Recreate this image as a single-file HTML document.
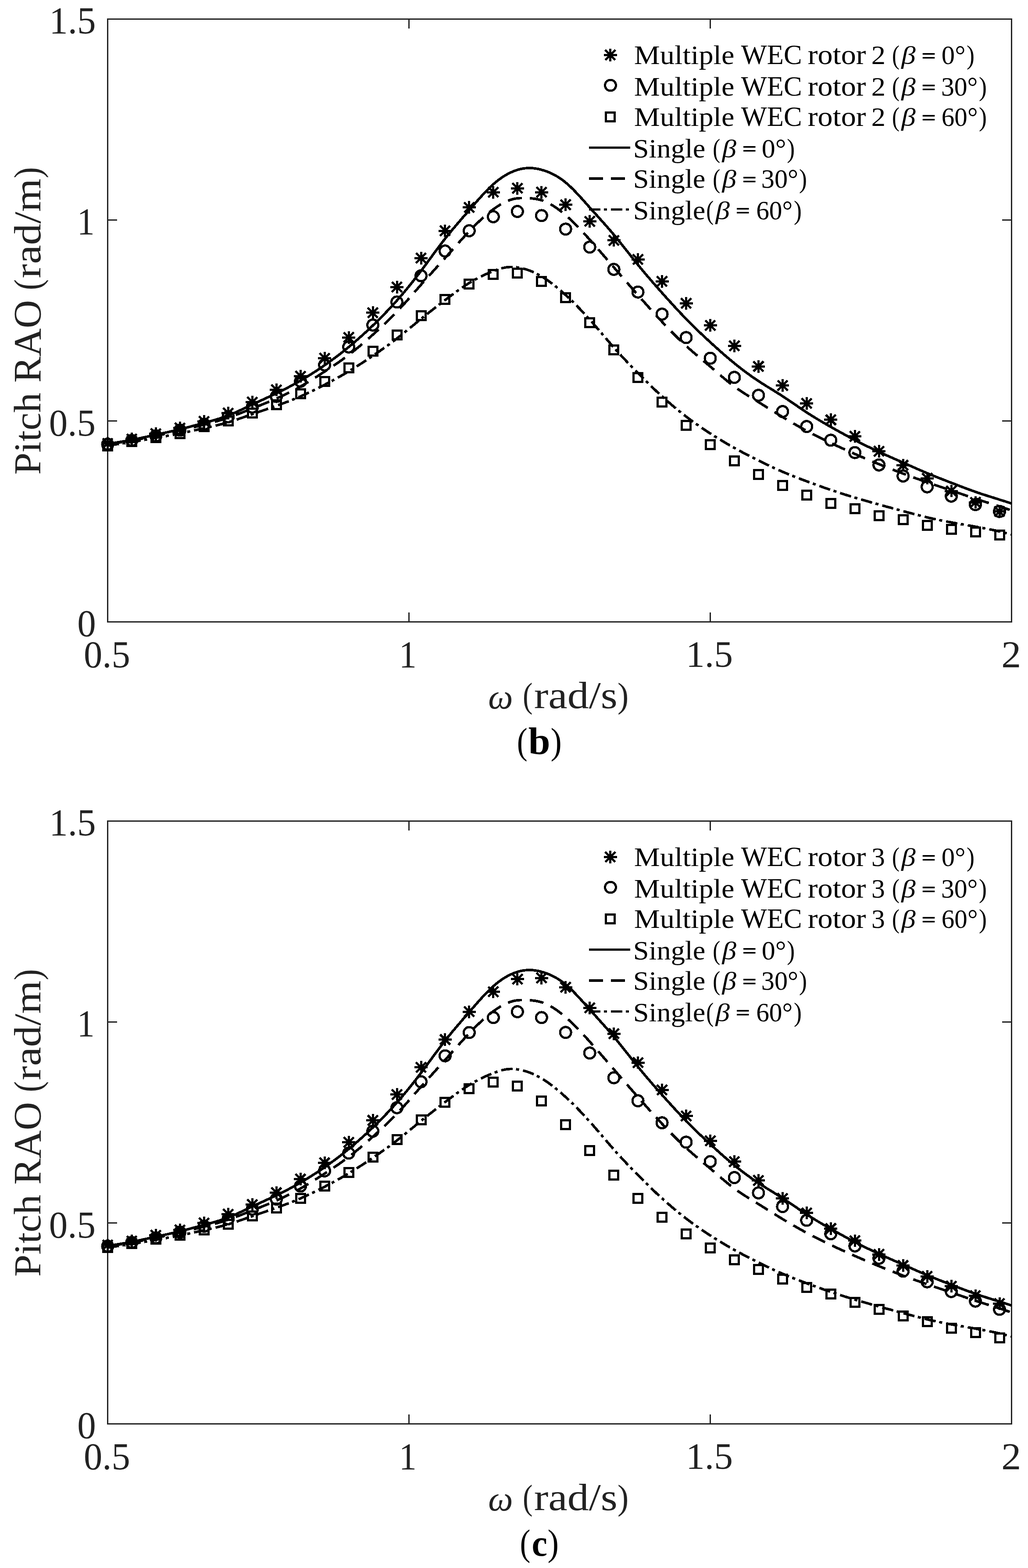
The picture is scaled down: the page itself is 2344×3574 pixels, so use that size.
<!DOCTYPE html>
<html lang="en"><head><meta charset="utf-8"><title>Pitch RAO</title>
<style>html,body{margin:0;padding:0;background:#fff}svg{display:block}text{white-space:pre}</style></head>
<body>
<svg xmlns="http://www.w3.org/2000/svg" width="2344" height="3574" viewBox="0 0 2344 3574">
<rect width="2344" height="3574" fill="#fff"/>
<g id="plot-b">
<rect x="245.5" y="43.5" width="2061.0" height="1374.0" fill="none" stroke="#222222" stroke-width="3"/>
<path d="M932.5,1417.5v-21.5M932.5,43.5v21.5M1619.5,1417.5v-21.5M1619.5,43.5v21.5M245.5,959.5h21.5M2306.5,959.5h-21.5M245.5,501.5h21.5M2306.5,501.5h-21.5" stroke="#222222" stroke-width="3" fill="none"/>
<g shape-rendering="crispEdges">
<path d="M245.5,1011.5 L249.5,1011.0 L253.5,1010.4 L257.5,1009.9 L261.5,1009.3 L265.5,1008.7 L269.5,1008.0 L273.5,1007.4 L277.5,1006.7 L281.5,1006.0 L285.5,1005.3 L289.5,1004.6 L293.5,1003.8 L297.5,1003.1 L301.5,1002.3 L305.5,1001.5 L309.5,1000.7 L313.5,999.9 L317.5,999.1 L321.5,998.3 L325.5,997.4 L329.5,996.6 L333.5,995.7 L337.5,994.9 L341.5,994.0 L345.5,993.2 L349.5,992.3 L353.5,991.4 L357.5,990.5 L361.5,989.7 L365.5,988.8 L369.5,987.9 L373.5,987.0 L377.5,986.2 L381.5,985.3 L385.5,984.4 L389.5,983.4 L393.5,982.5 L397.5,981.6 L401.5,980.6 L405.5,979.7 L409.5,978.7 L413.5,977.7 L417.5,976.7 L421.5,975.7 L425.5,974.7 L429.5,973.6 L433.5,972.6 L437.5,971.5 L441.5,970.5 L445.5,969.4 L449.5,968.3 L453.5,967.2 L457.5,966.1 L461.5,965.0 L465.5,964.0 L469.5,962.9 L473.5,961.8 L477.5,960.7 L481.5,959.6 L485.5,958.4 L489.5,957.3 L493.5,956.1 L497.5,954.9 L501.5,953.6 L505.5,952.3 L509.5,950.9 L513.5,949.5 L517.5,948.1 L521.5,946.5 L525.5,944.9 L529.5,943.3 L533.5,941.6 L537.5,939.8 L541.5,938.0 L545.5,936.1 L549.5,934.3 L553.5,932.4 L557.5,930.5 L561.5,928.6 L565.5,926.7 L569.5,924.7 L573.5,922.8 L577.5,920.9 L581.5,919.1 L585.5,917.2 L589.5,915.4 L593.5,913.5 L597.5,911.7 L601.5,909.9 L605.5,908.0 L609.5,906.2 L613.5,904.4 L617.5,902.5 L621.5,900.6 L625.5,898.8 L629.5,896.8 L633.5,894.9 L637.5,893.0 L641.5,891.0 L645.5,889.0 L649.5,886.9 L653.5,884.9 L657.5,882.8 L661.5,880.7 L665.5,878.5 L669.5,876.3 L673.5,874.1 L677.5,871.9 L681.5,869.6 L685.5,867.3 L689.5,865.0 L693.5,862.6 L697.5,860.2 L701.5,857.8 L705.5,855.3 L709.5,852.8 L713.5,850.2 L717.5,847.7 L721.5,845.1 L725.5,842.4 L729.5,839.8 L733.5,837.1 L737.5,834.3 L741.5,831.6 L745.5,828.8 L749.5,825.9 L753.5,823.0 L757.5,820.1 L761.5,817.2 L765.5,814.2 L769.5,811.2 L773.5,808.2 L777.5,805.1 L781.5,801.9 L785.5,798.8 L789.5,795.6 L793.5,792.3 L797.5,789.0 L801.5,785.7 L805.5,782.3 L809.5,778.9 L813.5,775.4 L817.5,771.9 L821.5,768.4 L825.5,764.8 L829.5,761.2 L833.5,757.6 L837.5,753.9 L841.5,750.1 L845.5,746.3 L849.5,742.5 L853.5,738.7 L857.5,734.8 L861.5,730.9 L865.5,726.9 L869.5,722.9 L873.5,718.8 L877.5,714.7 L881.5,710.5 L885.5,706.3 L889.5,702.1 L893.5,697.8 L897.5,693.4 L901.5,688.9 L905.5,684.5 L909.5,679.9 L913.5,675.3 L917.5,670.6 L921.5,665.9 L925.5,661.1 L929.5,656.3 L933.5,651.4 L937.5,646.4 L941.5,641.4 L945.5,636.3 L949.5,631.2 L953.5,626.0 L957.5,620.8 L961.5,615.5 L965.5,610.1 L969.5,604.8 L973.5,599.4 L977.5,593.9 L981.5,588.5 L985.5,583.0 L989.5,577.6 L993.5,572.2 L997.5,566.8 L1001.5,561.5 L1005.5,556.2 L1009.5,551.0 L1013.5,545.8 L1017.5,540.8 L1021.5,535.8 L1025.5,530.9 L1029.5,526.0 L1033.5,521.2 L1037.5,516.5 L1041.5,511.8 L1045.5,507.1 L1049.5,502.5 L1053.5,497.8 L1057.5,493.2 L1061.5,488.7 L1065.5,484.1 L1069.5,479.5 L1073.5,474.8 L1077.5,470.2 L1081.5,465.6 L1085.5,461.0 L1089.5,456.5 L1093.5,452.0 L1097.5,447.6 L1101.5,443.2 L1105.5,438.9 L1109.5,434.8 L1113.5,430.7 L1117.5,426.8 L1121.5,423.0 L1125.5,419.4 L1129.5,416.0 L1133.5,412.7 L1137.5,409.6 L1141.5,406.7 L1145.5,403.9 L1149.5,401.3 L1153.5,398.9 L1157.5,396.6 L1161.5,394.6 L1165.5,392.7 L1169.5,390.9 L1173.5,389.3 L1177.5,387.9 L1181.5,386.7 L1185.5,385.6 L1189.5,384.8 L1193.5,384.1 L1197.5,383.5 L1201.5,383.2 L1205.5,383.0 L1209.5,383.0 L1213.5,383.2 L1217.5,383.6 L1221.5,384.2 L1225.5,384.8 L1229.5,385.7 L1233.5,386.7 L1237.5,387.8 L1241.5,389.0 L1245.5,390.4 L1249.5,391.9 L1253.5,393.5 L1257.5,395.3 L1261.5,397.3 L1265.5,399.4 L1269.5,401.7 L1273.5,404.2 L1277.5,406.8 L1281.5,409.6 L1285.5,412.6 L1289.5,415.8 L1293.5,419.2 L1297.5,422.8 L1301.5,426.5 L1305.5,430.4 L1309.5,434.4 L1313.5,438.6 L1317.5,442.8 L1321.5,447.1 L1325.5,451.5 L1329.5,455.9 L1333.5,460.4 L1337.5,464.9 L1341.5,469.4 L1345.5,473.9 L1349.5,478.4 L1353.5,482.8 L1357.5,487.2 L1361.5,491.6 L1365.5,496.1 L1369.5,500.5 L1373.5,505.0 L1377.5,509.4 L1381.5,513.9 L1385.5,518.5 L1389.5,523.1 L1393.5,527.7 L1397.5,532.4 L1401.5,537.2 L1405.5,542.0 L1409.5,546.9 L1413.5,551.9 L1417.5,556.9 L1421.5,561.9 L1425.5,566.9 L1429.5,572.0 L1433.5,577.1 L1437.5,582.1 L1441.5,587.2 L1445.5,592.2 L1449.5,597.2 L1453.5,602.1 L1457.5,607.0 L1461.5,611.9 L1465.5,616.7 L1469.5,621.5 L1473.5,626.2 L1477.5,630.9 L1481.5,635.5 L1485.5,640.2 L1489.5,644.8 L1493.5,649.3 L1497.5,653.9 L1501.5,658.4 L1505.5,662.9 L1509.5,667.4 L1513.5,671.9 L1517.5,676.4 L1521.5,680.8 L1525.5,685.2 L1529.5,689.6 L1533.5,694.0 L1537.5,698.4 L1541.5,702.7 L1545.5,707.0 L1549.5,711.3 L1553.5,715.5 L1557.5,719.7 L1561.5,723.9 L1565.5,728.0 L1569.5,732.1 L1573.5,736.1 L1577.5,740.1 L1581.5,744.0 L1585.5,747.9 L1589.5,751.8 L1593.5,755.7 L1597.5,759.5 L1601.5,763.3 L1605.5,767.0 L1609.5,770.8 L1613.5,774.5 L1617.5,778.2 L1621.5,781.8 L1625.5,785.5 L1629.5,789.1 L1633.5,792.7 L1637.5,796.3 L1641.5,799.9 L1645.5,803.4 L1649.5,806.9 L1653.5,810.4 L1657.5,813.8 L1661.5,817.2 L1665.5,820.6 L1669.5,823.9 L1673.5,827.2 L1677.5,830.5 L1681.5,833.7 L1685.5,836.8 L1689.5,839.9 L1693.5,843.0 L1697.5,846.0 L1701.5,849.0 L1705.5,851.9 L1709.5,854.8 L1713.5,857.7 L1717.5,860.4 L1721.5,863.2 L1725.5,865.9 L1729.5,868.6 L1733.5,871.2 L1737.5,873.7 L1741.5,876.3 L1745.5,878.8 L1749.5,881.3 L1753.5,883.7 L1757.5,886.2 L1761.5,888.6 L1765.5,891.1 L1769.5,893.6 L1773.5,896.1 L1777.5,898.6 L1781.5,901.1 L1785.5,903.7 L1789.5,906.4 L1793.5,909.0 L1797.5,911.7 L1801.5,914.4 L1805.5,917.1 L1809.5,919.9 L1813.5,922.6 L1817.5,925.3 L1821.5,928.1 L1825.5,930.8 L1829.5,933.5 L1833.5,936.2 L1837.5,938.8 L1841.5,941.4 L1845.5,944.0 L1849.5,946.5 L1853.5,949.0 L1857.5,951.5 L1861.5,953.9 L1865.5,956.3 L1869.5,958.7 L1873.5,961.0 L1877.5,963.4 L1881.5,965.7 L1885.5,968.0 L1889.5,970.3 L1893.5,972.5 L1897.5,974.8 L1901.5,977.1 L1905.5,979.3 L1909.5,981.5 L1913.5,983.8 L1917.5,986.0 L1921.5,988.2 L1925.5,990.3 L1929.5,992.5 L1933.5,994.7 L1937.5,996.8 L1941.5,998.9 L1945.5,1001.0 L1949.5,1003.1 L1953.5,1005.2 L1957.5,1007.3 L1961.5,1009.3 L1965.5,1011.3 L1969.5,1013.3 L1973.5,1015.3 L1977.5,1017.3 L1981.5,1019.2 L1985.5,1021.2 L1989.5,1023.1 L1993.5,1025.0 L1997.5,1026.9 L2001.5,1028.7 L2005.5,1030.6 L2009.5,1032.4 L2013.5,1034.2 L2017.5,1036.0 L2021.5,1037.8 L2025.5,1039.6 L2029.5,1041.4 L2033.5,1043.2 L2037.5,1044.9 L2041.5,1046.7 L2045.5,1048.5 L2049.5,1050.2 L2053.5,1052.0 L2057.5,1053.8 L2061.5,1055.5 L2065.5,1057.3 L2069.5,1059.1 L2073.5,1060.9 L2077.5,1062.6 L2081.5,1064.4 L2085.5,1066.2 L2089.5,1068.0 L2093.5,1069.7 L2097.5,1071.5 L2101.5,1073.2 L2105.5,1074.9 L2109.5,1076.6 L2113.5,1078.3 L2117.5,1080.0 L2121.5,1081.7 L2125.5,1083.3 L2129.5,1084.9 L2133.5,1086.5 L2137.5,1088.1 L2141.5,1089.7 L2145.5,1091.2 L2149.5,1092.8 L2153.5,1094.4 L2157.5,1095.9 L2161.5,1097.5 L2165.5,1099.0 L2169.5,1100.6 L2173.5,1102.1 L2177.5,1103.6 L2181.5,1105.2 L2185.5,1106.7 L2189.5,1108.3 L2193.5,1109.8 L2197.5,1111.3 L2201.5,1112.8 L2205.5,1114.3 L2209.5,1115.8 L2213.5,1117.2 L2217.5,1118.7 L2221.5,1120.1 L2225.5,1121.5 L2229.5,1122.9 L2233.5,1124.2 L2237.5,1125.6 L2241.5,1126.9 L2245.5,1128.2 L2249.5,1129.5 L2253.5,1130.8 L2257.5,1132.0 L2261.5,1133.3 L2265.5,1134.5 L2269.5,1135.8 L2273.5,1137.1 L2277.5,1138.3 L2281.5,1139.6 L2285.5,1140.9 L2289.5,1142.1 L2293.5,1143.4 L2297.5,1144.7 L2301.5,1146.0 L2305.5,1147.4 L2306.5,1147.7" fill="none" stroke="#000" stroke-width="5.8" stroke-linejoin="round"/>
<path d="M245.5,1012.5 L249.5,1012.0 L253.5,1011.4 L257.5,1010.8 L261.5,1010.3 L265.5,1009.7 L269.5,1009.1 L273.5,1008.5 L277.5,1007.8 L281.5,1007.2 L285.5,1006.5 L289.5,1005.9 L293.5,1005.2 L297.5,1004.5 L301.5,1003.8 L305.5,1003.1 L309.5,1002.4 L313.5,1001.7 L317.5,1000.9 L321.5,1000.2 L325.5,999.4 L329.5,998.7 L333.5,997.9 L337.5,997.1 L341.5,996.3 L345.5,995.5 L349.5,994.7 L353.5,993.9 L357.5,993.1 L361.5,992.2 L365.5,991.4 L369.5,990.6 L373.5,989.7 L377.5,988.9 L381.5,988.0 L385.5,987.1 L389.5,986.2 L393.5,985.3 L397.5,984.4 L401.5,983.5 L405.5,982.6 L409.5,981.7 L413.5,980.8 L417.5,979.8 L421.5,978.9 L425.5,977.9 L429.5,977.0 L433.5,976.0 L437.5,975.0 L441.5,974.0 L445.5,973.0 L449.5,972.0 L453.5,971.0 L457.5,970.0 L461.5,969.0 L465.5,968.0 L469.5,966.9 L473.5,965.9 L477.5,964.8 L481.5,963.7 L485.5,962.6 L489.5,961.5 L493.5,960.4 L497.5,959.2 L501.5,958.0 L505.5,956.8 L509.5,955.5 L513.5,954.3 L517.5,952.9 L521.5,951.6 L525.5,950.2 L529.5,948.8 L533.5,947.3 L537.5,945.8 L541.5,944.3 L545.5,942.8 L549.5,941.2 L553.5,939.7 L557.5,938.1 L561.5,936.5 L565.5,934.9 L569.5,933.3 L573.5,931.7 L577.5,930.1 L581.5,928.5 L585.5,926.9 L589.5,925.3 L593.5,923.8 L597.5,922.2 L601.5,920.5 L605.5,918.9 L609.5,917.3 L613.5,915.6 L617.5,914.0 L621.5,912.3 L625.5,910.6 L629.5,908.8 L633.5,907.0 L637.5,905.2 L641.5,903.4 L645.5,901.5 L649.5,899.6 L653.5,897.7 L657.5,895.7 L661.5,893.7 L665.5,891.6 L669.5,889.6 L673.5,887.4 L677.5,885.3 L681.5,883.1 L685.5,880.8 L689.5,878.5 L693.5,876.2 L697.5,873.8 L701.5,871.4 L705.5,869.0 L709.5,866.5 L713.5,864.1 L717.5,861.5 L721.5,859.0 L725.5,856.5 L729.5,853.9 L733.5,851.3 L737.5,848.7 L741.5,846.1 L745.5,843.5 L749.5,840.9 L753.5,838.2 L757.5,835.6 L761.5,832.9 L765.5,830.2 L769.5,827.5 L773.5,824.7 L777.5,821.9 L781.5,819.0 L785.5,816.1 L789.5,813.2 L793.5,810.2 L797.5,807.2 L801.5,804.1 L805.5,800.9 L809.5,797.7 L813.5,794.4 L817.5,791.1 L821.5,787.8 L825.5,784.4 L829.5,781.0 L833.5,777.6 L837.5,774.1 L841.5,770.6 L845.5,767.1 L849.5,763.5 L853.5,759.9 L857.5,756.3 L861.5,752.7 L865.5,749.1 L869.5,745.4 L873.5,741.6 L877.5,737.9 L881.5,734.1 L885.5,730.2 L889.5,726.3 L893.5,722.3 L897.5,718.3 L901.5,714.2 L905.5,710.0 L909.5,705.8 L913.5,701.4 L917.5,697.1 L921.5,692.7 L925.5,688.2 L929.5,683.7 L933.5,679.2 L937.5,674.6 L941.5,670.1 L945.5,665.5 L949.5,660.9 L953.5,656.4 L957.5,651.8 L961.5,647.3 L965.5,642.8 L969.5,638.3 L973.5,633.9 L977.5,629.4 L981.5,625.0 L985.5,620.6 L989.5,616.1 L993.5,611.7 L997.5,607.3 L1001.5,602.9 L1005.5,598.5 L1009.5,594.1 L1013.5,589.6 L1017.5,585.1 L1021.5,580.7 L1025.5,576.2 L1029.5,571.7 L1033.5,567.2 L1037.5,562.7 L1041.5,558.2 L1045.5,553.8 L1049.5,549.4 L1053.5,545.0 L1057.5,540.6 L1061.5,536.2 L1065.5,532.0 L1069.5,527.7 L1073.5,523.5 L1077.5,519.4 L1081.5,515.3 L1085.5,511.4 L1089.5,507.4 L1093.5,503.6 L1097.5,499.9 L1101.5,496.2 L1105.5,492.7 L1109.5,489.2 L1113.5,485.9 L1117.5,482.6 L1121.5,479.5 L1125.5,476.5 L1129.5,473.7 L1133.5,471.0 L1137.5,468.4 L1141.5,466.0 L1145.5,463.7 L1149.5,461.6 L1153.5,459.7 L1157.5,458.0 L1161.5,456.4 L1165.5,455.1 L1169.5,453.9 L1173.5,453.0 L1177.5,452.3 L1181.5,451.8 L1185.5,451.6 L1189.5,451.5 L1193.5,451.5 L1197.5,451.5 L1201.5,451.6 L1205.5,451.8 L1209.5,452.0 L1213.5,452.4 L1217.5,452.8 L1221.5,453.4 L1225.5,454.1 L1229.5,455.0 L1233.5,456.1 L1237.5,457.4 L1241.5,458.9 L1245.5,460.6 L1249.5,462.5 L1253.5,464.5 L1257.5,466.8 L1261.5,469.2 L1265.5,471.8 L1269.5,474.5 L1273.5,477.4 L1277.5,480.4 L1281.5,483.6 L1285.5,486.9 L1289.5,490.3 L1293.5,493.8 L1297.5,497.4 L1301.5,501.2 L1305.5,505.0 L1309.5,508.9 L1313.5,512.9 L1317.5,517.0 L1321.5,521.1 L1325.5,525.4 L1329.5,529.6 L1333.5,533.9 L1337.5,538.3 L1341.5,542.7 L1345.5,547.2 L1349.5,551.7 L1353.5,556.2 L1357.5,560.7 L1361.5,565.3 L1365.5,569.9 L1369.5,574.5 L1373.5,579.1 L1377.5,583.7 L1381.5,588.3 L1385.5,593.0 L1389.5,597.6 L1393.5,602.3 L1397.5,606.9 L1401.5,611.5 L1405.5,616.2 L1409.5,620.8 L1413.5,625.4 L1417.5,630.0 L1421.5,634.6 L1425.5,639.2 L1429.5,643.8 L1433.5,648.4 L1437.5,653.0 L1441.5,657.6 L1445.5,662.1 L1449.5,666.7 L1453.5,671.2 L1457.5,675.8 L1461.5,680.3 L1465.5,684.8 L1469.5,689.3 L1473.5,693.8 L1477.5,698.3 L1481.5,702.8 L1485.5,707.2 L1489.5,711.6 L1493.5,716.1 L1497.5,720.4 L1501.5,724.8 L1505.5,729.1 L1509.5,733.4 L1513.5,737.7 L1517.5,741.9 L1521.5,746.1 L1525.5,750.3 L1529.5,754.4 L1533.5,758.5 L1537.5,762.5 L1541.5,766.5 L1545.5,770.5 L1549.5,774.4 L1553.5,778.2 L1557.5,782.0 L1561.5,785.7 L1565.5,789.4 L1569.5,793.0 L1573.5,796.5 L1577.5,800.0 L1581.5,803.5 L1585.5,806.9 L1589.5,810.3 L1593.5,813.7 L1597.5,817.0 L1601.5,820.4 L1605.5,823.7 L1609.5,827.1 L1613.5,830.4 L1617.5,833.8 L1621.5,837.2 L1625.5,840.6 L1629.5,844.1 L1633.5,847.5 L1637.5,850.9 L1641.5,854.3 L1645.5,857.8 L1649.5,861.1 L1653.5,864.5 L1657.5,867.8 L1661.5,871.0 L1665.5,874.2 L1669.5,877.3 L1673.5,880.3 L1677.5,883.2 L1681.5,886.1 L1685.5,888.9 L1689.5,891.6 L1693.5,894.2 L1697.5,896.8 L1701.5,899.3 L1705.5,901.9 L1709.5,904.3 L1713.5,906.8 L1717.5,909.2 L1721.5,911.7 L1725.5,914.1 L1729.5,916.5 L1733.5,919.0 L1737.5,921.5 L1741.5,924.0 L1745.5,926.5 L1749.5,929.0 L1753.5,931.5 L1757.5,934.0 L1761.5,936.5 L1765.5,939.0 L1769.5,941.5 L1773.5,943.9 L1777.5,946.4 L1781.5,948.8 L1785.5,951.3 L1789.5,953.7 L1793.5,956.1 L1797.5,958.4 L1801.5,960.8 L1805.5,963.1 L1809.5,965.4 L1813.5,967.7 L1817.5,970.0 L1821.5,972.2 L1825.5,974.5 L1829.5,976.7 L1833.5,978.8 L1837.5,981.0 L1841.5,983.2 L1845.5,985.3 L1849.5,987.4 L1853.5,989.5 L1857.5,991.5 L1861.5,993.6 L1865.5,995.6 L1869.5,997.6 L1873.5,999.6 L1877.5,1001.6 L1881.5,1003.5 L1885.5,1005.5 L1889.5,1007.4 L1893.5,1009.3 L1897.5,1011.2 L1901.5,1013.1 L1905.5,1015.0 L1909.5,1016.8 L1913.5,1018.7 L1917.5,1020.5 L1921.5,1022.3 L1925.5,1024.1 L1929.5,1025.9 L1933.5,1027.7 L1937.5,1029.5 L1941.5,1031.3 L1945.5,1033.0 L1949.5,1034.8 L1953.5,1036.6 L1957.5,1038.3 L1961.5,1040.0 L1965.5,1041.8 L1969.5,1043.5 L1973.5,1045.2 L1977.5,1046.9 L1981.5,1048.6 L1985.5,1050.3 L1989.5,1051.9 L1993.5,1053.6 L1997.5,1055.2 L2001.5,1056.9 L2005.5,1058.5 L2009.5,1060.1 L2013.5,1061.8 L2017.5,1063.4 L2021.5,1065.0 L2025.5,1066.5 L2029.5,1068.1 L2033.5,1069.7 L2037.5,1071.2 L2041.5,1072.8 L2045.5,1074.3 L2049.5,1075.8 L2053.5,1077.4 L2057.5,1078.9 L2061.5,1080.4 L2065.5,1081.9 L2069.5,1083.3 L2073.5,1084.8 L2077.5,1086.3 L2081.5,1087.7 L2085.5,1089.2 L2089.5,1090.6 L2093.5,1092.0 L2097.5,1093.5 L2101.5,1094.9 L2105.5,1096.3 L2109.5,1097.7 L2113.5,1099.1 L2117.5,1100.5 L2121.5,1101.8 L2125.5,1103.2 L2129.5,1104.6 L2133.5,1105.9 L2137.5,1107.3 L2141.5,1108.6 L2145.5,1110.0 L2149.5,1111.3 L2153.5,1112.7 L2157.5,1114.1 L2161.5,1115.4 L2165.5,1116.8 L2169.5,1118.1 L2173.5,1119.5 L2177.5,1120.9 L2181.5,1122.3 L2185.5,1123.6 L2189.5,1125.0 L2193.5,1126.4 L2197.5,1127.8 L2201.5,1129.1 L2205.5,1130.5 L2209.5,1131.8 L2213.5,1133.2 L2217.5,1134.5 L2221.5,1135.9 L2225.5,1137.2 L2229.5,1138.5 L2233.5,1139.8 L2237.5,1141.0 L2241.5,1142.3 L2245.5,1143.6 L2249.5,1144.9 L2253.5,1146.1 L2257.5,1147.4 L2261.5,1148.7 L2265.5,1149.9 L2269.5,1151.2 L2273.5,1152.5 L2277.5,1153.8 L2281.5,1155.1 L2285.5,1156.4 L2289.5,1157.8 L2293.5,1159.1 L2297.5,1160.5 L2301.5,1161.9 L2305.5,1163.3 L2306.5,1163.7" fill="none" stroke="#000" stroke-width="5.8" stroke-dasharray="32 18.03" stroke-linejoin="round"/>
<path d="M245.5,1015.0 L249.5,1014.6 L253.5,1014.1 L257.5,1013.7 L261.5,1013.2 L265.5,1012.7 L269.5,1012.1 L273.5,1011.6 L277.5,1011.0 L281.5,1010.4 L285.5,1009.8 L289.5,1009.2 L293.5,1008.6 L297.5,1008.0 L301.5,1007.3 L305.5,1006.7 L309.5,1006.0 L313.5,1005.3 L317.5,1004.6 L321.5,1004.0 L325.5,1003.3 L329.5,1002.6 L333.5,1001.9 L337.5,1001.2 L341.5,1000.5 L345.5,999.7 L349.5,999.0 L353.5,998.3 L357.5,997.6 L361.5,996.9 L365.5,996.2 L369.5,995.5 L373.5,994.8 L377.5,994.1 L381.5,993.4 L385.5,992.7 L389.5,992.0 L393.5,991.2 L397.5,990.5 L401.5,989.7 L405.5,989.0 L409.5,988.2 L413.5,987.4 L417.5,986.5 L421.5,985.7 L425.5,984.9 L429.5,984.0 L433.5,983.1 L437.5,982.2 L441.5,981.4 L445.5,980.5 L449.5,979.6 L453.5,978.7 L457.5,977.8 L461.5,976.9 L465.5,976.0 L469.5,975.1 L473.5,974.2 L477.5,973.3 L481.5,972.4 L485.5,971.4 L489.5,970.5 L493.5,969.6 L497.5,968.6 L501.5,967.6 L505.5,966.6 L509.5,965.5 L513.5,964.4 L517.5,963.3 L521.5,962.1 L525.5,960.9 L529.5,959.7 L533.5,958.4 L537.5,957.1 L541.5,955.8 L545.5,954.4 L549.5,953.0 L553.5,951.7 L557.5,950.3 L561.5,948.8 L565.5,947.4 L569.5,946.0 L573.5,944.6 L577.5,943.2 L581.5,941.8 L585.5,940.5 L589.5,939.1 L593.5,937.7 L597.5,936.3 L601.5,935.0 L605.5,933.6 L609.5,932.2 L613.5,930.9 L617.5,929.5 L621.5,928.1 L625.5,926.7 L629.5,925.3 L633.5,923.8 L637.5,922.4 L641.5,920.9 L645.5,919.4 L649.5,917.9 L653.5,916.4 L657.5,914.9 L661.5,913.3 L665.5,911.7 L669.5,910.1 L673.5,908.5 L677.5,906.8 L681.5,905.1 L685.5,903.4 L689.5,901.6 L693.5,899.8 L697.5,898.0 L701.5,896.1 L705.5,894.2 L709.5,892.3 L713.5,890.4 L717.5,888.5 L721.5,886.5 L725.5,884.5 L729.5,882.5 L733.5,880.4 L737.5,878.4 L741.5,876.3 L745.5,874.2 L749.5,872.1 L753.5,870.0 L757.5,867.8 L761.5,865.7 L765.5,863.5 L769.5,861.3 L773.5,859.0 L777.5,856.8 L781.5,854.5 L785.5,852.2 L789.5,849.8 L793.5,847.5 L797.5,845.1 L801.5,842.6 L805.5,840.1 L809.5,837.6 L813.5,835.1 L817.5,832.6 L821.5,830.0 L825.5,827.4 L829.5,824.8 L833.5,822.1 L837.5,819.5 L841.5,816.8 L845.5,814.1 L849.5,811.4 L853.5,808.7 L857.5,805.9 L861.5,803.2 L865.5,800.4 L869.5,797.6 L873.5,794.8 L877.5,791.9 L881.5,789.1 L885.5,786.2 L889.5,783.2 L893.5,780.3 L897.5,777.2 L901.5,774.2 L905.5,771.1 L909.5,768.0 L913.5,764.9 L917.5,761.7 L921.5,758.4 L925.5,755.2 L929.5,751.9 L933.5,748.7 L937.5,745.4 L941.5,742.1 L945.5,738.8 L949.5,735.5 L953.5,732.3 L957.5,729.0 L961.5,725.8 L965.5,722.5 L969.5,719.3 L973.5,716.2 L977.5,713.0 L981.5,709.8 L985.5,706.7 L989.5,703.6 L993.5,700.5 L997.5,697.4 L1001.5,694.3 L1005.5,691.2 L1009.5,688.2 L1013.5,685.1 L1017.5,682.0 L1021.5,679.0 L1025.5,676.0 L1029.5,673.0 L1033.5,670.0 L1037.5,667.1 L1041.5,664.1 L1045.5,661.3 L1049.5,658.5 L1053.5,655.7 L1057.5,653.0 L1061.5,650.3 L1065.5,647.7 L1069.5,645.2 L1073.5,642.8 L1077.5,640.5 L1081.5,638.2 L1085.5,636.0 L1089.5,633.9 L1093.5,631.8 L1097.5,629.9 L1101.5,627.9 L1105.5,626.1 L1109.5,624.3 L1113.5,622.6 L1117.5,620.9 L1121.5,619.3 L1125.5,617.8 L1129.5,616.3 L1133.5,614.8 L1137.5,613.5 L1141.5,612.3 L1145.5,611.2 L1149.5,610.3 L1153.5,609.5 L1157.5,609.0 L1161.5,608.6 L1165.5,608.4 L1169.5,608.5 L1173.5,608.8 L1177.5,609.2 L1181.5,609.8 L1185.5,610.5 L1189.5,611.3 L1193.5,612.3 L1197.5,613.4 L1201.5,614.6 L1205.5,616.0 L1209.5,617.5 L1213.5,619.2 L1217.5,620.9 L1221.5,622.8 L1225.5,624.8 L1229.5,627.0 L1233.5,629.2 L1237.5,631.6 L1241.5,634.2 L1245.5,636.8 L1249.5,639.6 L1253.5,642.4 L1257.5,645.4 L1261.5,648.4 L1265.5,651.6 L1269.5,654.9 L1273.5,658.2 L1277.5,661.6 L1281.5,665.1 L1285.5,668.7 L1289.5,672.3 L1293.5,676.0 L1297.5,679.7 L1301.5,683.5 L1305.5,687.4 L1309.5,691.3 L1313.5,695.3 L1317.5,699.4 L1321.5,703.5 L1325.5,707.7 L1329.5,711.9 L1333.5,716.2 L1337.5,720.5 L1341.5,724.9 L1345.5,729.4 L1349.5,733.9 L1353.5,738.5 L1357.5,743.1 L1361.5,747.7 L1365.5,752.4 L1369.5,757.0 L1373.5,761.7 L1377.5,766.4 L1381.5,771.1 L1385.5,775.7 L1389.5,780.4 L1393.5,785.0 L1397.5,789.5 L1401.5,794.1 L1405.5,798.6 L1409.5,803.0 L1413.5,807.4 L1417.5,811.7 L1421.5,816.1 L1425.5,820.3 L1429.5,824.6 L1433.5,828.8 L1437.5,833.0 L1441.5,837.1 L1445.5,841.2 L1449.5,845.3 L1453.5,849.4 L1457.5,853.4 L1461.5,857.4 L1465.5,861.4 L1469.5,865.4 L1473.5,869.3 L1477.5,873.3 L1481.5,877.1 L1485.5,881.0 L1489.5,884.8 L1493.5,888.6 L1497.5,892.4 L1501.5,896.1 L1505.5,899.8 L1509.5,903.4 L1513.5,907.0 L1517.5,910.6 L1521.5,914.1 L1525.5,917.6 L1529.5,921.1 L1533.5,924.5 L1537.5,927.8 L1541.5,931.2 L1545.5,934.5 L1549.5,937.7 L1553.5,940.9 L1557.5,944.0 L1561.5,947.2 L1565.5,950.2 L1569.5,953.3 L1573.5,956.2 L1577.5,959.2 L1581.5,962.1 L1585.5,965.0 L1589.5,967.8 L1593.5,970.6 L1597.5,973.4 L1601.5,976.1 L1605.5,978.8 L1609.5,981.5 L1613.5,984.1 L1617.5,986.7 L1621.5,989.3 L1625.5,991.8 L1629.5,994.4 L1633.5,996.9 L1637.5,999.4 L1641.5,1001.8 L1645.5,1004.2 L1649.5,1006.6 L1653.5,1009.0 L1657.5,1011.4 L1661.5,1013.7 L1665.5,1016.0 L1669.5,1018.2 L1673.5,1020.5 L1677.5,1022.7 L1681.5,1024.9 L1685.5,1027.0 L1689.5,1029.2 L1693.5,1031.3 L1697.5,1033.4 L1701.5,1035.4 L1705.5,1037.5 L1709.5,1039.5 L1713.5,1041.6 L1717.5,1043.6 L1721.5,1045.6 L1725.5,1047.6 L1729.5,1049.5 L1733.5,1051.5 L1737.5,1053.5 L1741.5,1055.4 L1745.5,1057.4 L1749.5,1059.3 L1753.5,1061.2 L1757.5,1063.1 L1761.5,1065.0 L1765.5,1066.9 L1769.5,1068.7 L1773.5,1070.5 L1777.5,1072.3 L1781.5,1074.0 L1785.5,1075.8 L1789.5,1077.5 L1793.5,1079.2 L1797.5,1080.8 L1801.5,1082.4 L1805.5,1084.0 L1809.5,1085.6 L1813.5,1087.2 L1817.5,1088.7 L1821.5,1090.3 L1825.5,1091.8 L1829.5,1093.3 L1833.5,1094.8 L1837.5,1096.3 L1841.5,1097.8 L1845.5,1099.3 L1849.5,1100.8 L1853.5,1102.2 L1857.5,1103.7 L1861.5,1105.2 L1865.5,1106.6 L1869.5,1108.0 L1873.5,1109.5 L1877.5,1110.9 L1881.5,1112.3 L1885.5,1113.7 L1889.5,1115.1 L1893.5,1116.4 L1897.5,1117.8 L1901.5,1119.1 L1905.5,1120.4 L1909.5,1121.8 L1913.5,1123.1 L1917.5,1124.4 L1921.5,1125.6 L1925.5,1126.9 L1929.5,1128.2 L1933.5,1129.4 L1937.5,1130.6 L1941.5,1131.9 L1945.5,1133.1 L1949.5,1134.3 L1953.5,1135.5 L1957.5,1136.7 L1961.5,1137.8 L1965.5,1139.0 L1969.5,1140.2 L1973.5,1141.3 L1977.5,1142.5 L1981.5,1143.6 L1985.5,1144.8 L1989.5,1145.9 L1993.5,1147.0 L1997.5,1148.1 L2001.5,1149.2 L2005.5,1150.4 L2009.5,1151.5 L2013.5,1152.6 L2017.5,1153.7 L2021.5,1154.8 L2025.5,1155.9 L2029.5,1156.9 L2033.5,1158.0 L2037.5,1159.1 L2041.5,1160.2 L2045.5,1161.3 L2049.5,1162.4 L2053.5,1163.5 L2057.5,1164.5 L2061.5,1165.6 L2065.5,1166.7 L2069.5,1167.8 L2073.5,1168.9 L2077.5,1170.0 L2081.5,1171.0 L2085.5,1172.1 L2089.5,1173.1 L2093.5,1174.2 L2097.5,1175.2 L2101.5,1176.2 L2105.5,1177.2 L2109.5,1178.2 L2113.5,1179.1 L2117.5,1180.1 L2121.5,1181.0 L2125.5,1181.9 L2129.5,1182.8 L2133.5,1183.7 L2137.5,1184.5 L2141.5,1185.3 L2145.5,1186.2 L2149.5,1187.0 L2153.5,1187.7 L2157.5,1188.5 L2161.5,1189.3 L2165.5,1190.0 L2169.5,1190.8 L2173.5,1191.5 L2177.5,1192.2 L2181.5,1192.9 L2185.5,1193.7 L2189.5,1194.4 L2193.5,1195.1 L2197.5,1195.8 L2201.5,1196.5 L2205.5,1197.2 L2209.5,1197.8 L2213.5,1198.5 L2217.5,1199.2 L2221.5,1199.9 L2225.5,1200.7 L2229.5,1201.4 L2233.5,1202.1 L2237.5,1202.8 L2241.5,1203.6 L2245.5,1204.3 L2249.5,1205.1 L2253.5,1205.9 L2257.5,1206.7 L2261.5,1207.5 L2265.5,1208.4 L2269.5,1209.2 L2273.5,1210.1 L2277.5,1211.0 L2281.5,1212.0 L2285.5,1213.0 L2289.5,1214.0 L2293.5,1215.0 L2297.5,1216.1 L2301.5,1217.2 L2305.5,1218.4 L2306.5,1218.7" fill="none" stroke="#000" stroke-width="5.8" stroke-dasharray="26 8 7 9.03" stroke-linejoin="round"/>
<path d="M230.5,1010.7H260.5M245.5,996.3V1025.1M234.0,999.2L257.0,1022.2M234.0,1022.2L257.0,999.2M285.5,1000.6H315.5M300.5,986.2V1015.0M289.0,989.1L312.0,1012.1M289.0,1012.1L312.0,989.1M340.4,988.6H370.4M355.4,974.2V1003.0M343.9,977.1L366.9,1000.1M343.9,1000.1L366.9,977.1M395.4,975.5H425.4M410.4,961.1V989.9M398.9,964.0L421.9,987.0M398.9,987.0L421.9,964.0M450.3,960.7H480.3M465.3,946.3V975.1M453.8,949.2L476.8,972.2M453.8,972.2L476.8,949.2M505.3,941.6H535.3M520.3,927.2V956.0M508.8,930.1L531.8,953.1M508.8,953.1L531.8,930.1M560.3,916.6H590.3M575.3,902.2V931.0M563.8,905.1L586.8,928.1M563.8,928.1L586.8,905.1M615.2,888.5H645.2M630.2,874.1V902.9M618.7,877.0L641.7,900.0M618.7,900.0L641.7,877.0M670.2,857.5H700.2M685.2,843.1V871.9M673.7,846.0L696.7,869.0M673.7,869.0L696.7,846.0M725.1,816.5H755.1M740.1,802.1V830.9M728.6,805.0L751.6,828.0M728.6,828.0L751.6,805.0M780.1,769.1H810.1M795.1,754.7V783.5M783.6,757.6L806.6,780.6M783.6,780.6L806.6,757.6M835.1,712.7H865.1M850.1,698.3V727.1M838.6,701.2L861.6,724.2M838.6,724.2L861.6,701.2M890.0,654.3H920.0M905.0,639.9V668.7M893.5,642.8L916.5,665.8M893.5,665.8L916.5,642.8M945.0,588.3H975.0M960.0,573.9V602.7M948.5,576.8L971.5,599.8M948.5,599.8L971.5,576.8M999.9,526.0H1029.9M1014.9,511.6V540.4M1003.4,514.5L1026.4,537.5M1003.4,537.5L1026.4,514.5M1054.9,472.7H1084.9M1069.9,458.3V487.1M1058.4,461.2L1081.4,484.2M1058.4,484.2L1081.4,461.2M1109.9,438.1H1139.9M1124.9,423.7V452.5M1113.4,426.6L1136.4,449.6M1113.4,449.6L1136.4,426.6M1164.8,429.2H1194.8M1179.8,414.8V443.6M1168.3,417.7L1191.3,440.7M1168.3,440.7L1191.3,417.7M1219.8,438.1H1249.8M1234.8,423.7V452.5M1223.3,426.6L1246.3,449.6M1223.3,449.6L1246.3,426.6M1274.7,466.6H1304.7M1289.7,452.2V481.0M1278.2,455.1L1301.2,478.1M1278.2,478.1L1301.2,455.1M1329.7,504.5H1359.7M1344.7,490.1V518.9M1333.2,493.0L1356.2,516.0M1333.2,516.0L1356.2,493.0M1384.7,547.9H1414.7M1399.7,533.5V562.3M1388.2,536.4L1411.2,559.4M1388.2,559.4L1411.2,536.4M1439.6,591.4H1469.6M1454.6,577.0V605.8M1443.1,579.9L1466.1,602.9M1443.1,602.9L1466.1,579.9M1494.6,641.4H1524.6M1509.6,627.0V655.8M1498.1,629.9L1521.1,652.9M1498.1,652.9L1521.1,629.9M1549.5,691.4H1579.5M1564.5,677.0V705.8M1553.0,679.9L1576.0,702.9M1553.0,702.9L1576.0,679.9M1604.5,741.7H1634.5M1619.5,727.3V756.1M1608.0,730.2L1631.0,753.2M1608.0,753.2L1631.0,730.2M1659.5,788.3H1689.5M1674.5,773.9V802.7M1663.0,776.8L1686.0,799.8M1663.0,799.8L1686.0,776.8M1714.4,835.1H1744.4M1729.4,820.7V849.5M1717.9,823.6L1740.9,846.6M1717.9,846.6L1740.9,823.6M1769.4,878.7H1799.4M1784.4,864.3V893.1M1772.9,867.2L1795.9,890.2M1772.9,890.2L1795.9,867.2M1824.3,919.7H1854.3M1839.3,905.3V934.1M1827.8,908.2L1850.8,931.2M1827.8,931.2L1850.8,908.2M1879.3,956.8H1909.3M1894.3,942.4V971.2M1882.8,945.3L1905.8,968.3M1882.8,968.3L1905.8,945.3M1934.3,994.7H1964.3M1949.3,980.3V1009.1M1937.8,983.2L1960.8,1006.2M1937.8,1006.2L1960.8,983.2M1989.2,1028.6H2019.2M2004.2,1014.2V1043.0M1992.7,1017.1L2015.7,1040.1M1992.7,1040.1L2015.7,1017.1M2044.2,1060.3H2074.2M2059.2,1045.9V1074.7M2047.7,1048.8L2070.7,1071.8M2047.7,1071.8L2070.7,1048.8M2099.1,1090.0H2129.1M2114.1,1075.6V1104.4M2102.6,1078.5L2125.6,1101.5M2102.6,1101.5L2125.6,1078.5M2154.1,1119.0H2184.1M2169.1,1104.6V1133.4M2157.6,1107.5L2180.6,1130.5M2157.6,1130.5L2180.6,1107.5M2209.1,1145.0H2239.1M2224.1,1130.6V1159.4M2212.6,1133.5L2235.6,1156.5M2212.6,1156.5L2235.6,1133.5M2264.0,1165.8H2294.0M2279.0,1151.4V1180.2M2267.5,1154.3L2290.5,1177.3M2267.5,1177.3L2290.5,1154.3" fill="none" stroke="#000" stroke-width="5"/>
<g fill="none" stroke="#000" stroke-width="5"><circle cx="245.5" cy="1012.5" r="12.5"/><circle cx="300.5" cy="1004.0" r="12.5"/><circle cx="355.4" cy="993.5" r="12.5"/><circle cx="410.4" cy="980.5" r="12.5"/><circle cx="465.3" cy="967.0" r="12.5"/><circle cx="520.3" cy="950.0" r="12.5"/><circle cx="575.3" cy="928.0" r="12.5"/><circle cx="630.2" cy="903.6" r="12.5"/><circle cx="685.2" cy="869.0" r="12.5"/><circle cx="740.1" cy="831.9" r="12.5"/><circle cx="795.1" cy="790.9" r="12.5"/><circle cx="850.1" cy="740.9" r="12.5"/><circle cx="905.0" cy="688.4" r="12.5"/><circle cx="960.0" cy="628.6" r="12.5"/><circle cx="1014.9" cy="572.2" r="12.5"/><circle cx="1069.9" cy="526.0" r="12.5"/><circle cx="1124.9" cy="494.0" r="12.5"/><circle cx="1179.8" cy="482.0" r="12.5"/><circle cx="1234.8" cy="491.4" r="12.5"/><circle cx="1289.7" cy="522.2" r="12.5"/><circle cx="1344.7" cy="563.2" r="12.5"/><circle cx="1399.7" cy="614.0" r="12.5"/><circle cx="1454.6" cy="665.7" r="12.5"/><circle cx="1509.6" cy="716.0" r="12.5"/><circle cx="1564.5" cy="769.4" r="12.5"/><circle cx="1619.5" cy="816.6" r="12.5"/><circle cx="1674.5" cy="860.2" r="12.5"/><circle cx="1729.4" cy="901.0" r="12.5"/><circle cx="1784.4" cy="938.1" r="12.5"/><circle cx="1839.3" cy="972.2" r="12.5"/><circle cx="1894.3" cy="1003.4" r="12.5"/><circle cx="1949.3" cy="1031.6" r="12.5"/><circle cx="2004.2" cy="1059.8" r="12.5"/><circle cx="2059.2" cy="1085.0" r="12.5"/><circle cx="2114.1" cy="1109.7" r="12.5"/><circle cx="2169.1" cy="1130.9" r="12.5"/><circle cx="2224.1" cy="1150.2" r="12.5"/><circle cx="2279.0" cy="1165.8" r="12.5"/></g>
<g fill="none" stroke="#000" stroke-width="5"><rect x="235.5" y="1006.4" width="20" height="20"/><rect x="290.5" y="996.3" width="20" height="20"/><rect x="345.4" y="987.4" width="20" height="20"/><rect x="400.4" y="978.4" width="20" height="20"/><rect x="455.3" y="962.5" width="20" height="20"/><rect x="510.3" y="949.2" width="20" height="20"/><rect x="565.3" y="931.0" width="20" height="20"/><rect x="620.2" y="912.2" width="20" height="20"/><rect x="675.2" y="887.2" width="20" height="20"/><rect x="730.1" y="859.6" width="20" height="20"/><rect x="785.1" y="828.3" width="20" height="20"/><rect x="840.1" y="790.4" width="20" height="20"/><rect x="895.0" y="753.2" width="20" height="20"/><rect x="950.0" y="709.3" width="20" height="20"/><rect x="1004.9" y="672.3" width="20" height="20"/><rect x="1059.9" y="637.2" width="20" height="20"/><rect x="1114.9" y="615.2" width="20" height="20"/><rect x="1169.8" y="612.1" width="20" height="20"/><rect x="1224.8" y="631.3" width="20" height="20"/><rect x="1279.7" y="668.5" width="20" height="20"/><rect x="1334.7" y="725.2" width="20" height="20"/><rect x="1389.7" y="787.3" width="20" height="20"/><rect x="1444.6" y="850.2" width="20" height="20"/><rect x="1499.6" y="906.5" width="20" height="20"/><rect x="1554.5" y="959.6" width="20" height="20"/><rect x="1609.5" y="1003.1" width="20" height="20"/><rect x="1664.5" y="1040.5" width="20" height="20"/><rect x="1719.4" y="1071.3" width="20" height="20"/><rect x="1774.4" y="1096.2" width="20" height="20"/><rect x="1829.3" y="1118.5" width="20" height="20"/><rect x="1884.3" y="1137.2" width="20" height="20"/><rect x="1939.3" y="1149.2" width="20" height="20"/><rect x="1994.2" y="1165.4" width="20" height="20"/><rect x="2049.2" y="1174.4" width="20" height="20"/><rect x="2104.1" y="1187.5" width="20" height="20"/><rect x="2159.1" y="1196.2" width="20" height="20"/><rect x="2214.1" y="1202.5" width="20" height="20"/><rect x="2269.0" y="1209.3" width="20" height="20"/></g>
<path d="M1376.5,125.5H1406.5M1391.5,111.1V139.9M1380.0,114.0L1403.0,137.0M1380.0,137.0L1403.0,114.0" fill="none" stroke="#000" stroke-width="5"/>
<circle cx="1392" cy="194.5" r="12.5" fill="none" stroke="#000" stroke-width="5"/>
<rect x="1381.5" y="256.5" width="20" height="20" fill="none" stroke="#000" stroke-width="5"/>
<path d="M1343,336.5H1437" stroke="#000" stroke-width="5" fill="none"/>
<path d="M1343,407H1437" stroke="#000" stroke-width="6" stroke-dasharray="32 18" fill="none"/>
<path d="M1343,477.5H1437" stroke="#000" stroke-width="5" stroke-dasharray="26 8 7 9" fill="none"/>
</g>
<text transform="translate(112.16,75.55) scale(0.9876,1)" font-family="'Liberation Serif', serif" font-size="86.11" fill="#222222">1.5</text>
<text transform="translate(175.75,534.00) scale(0.9267,1)" font-family="'Liberation Serif', serif" font-size="86.33" fill="#222222">1</text>
<text transform="translate(111.74,992.65) scale(0.9834,1)" font-family="'Liberation Serif', serif" font-size="86.40" fill="#222222">0.5</text>
<text transform="translate(176.14,1450.05) scale(0.9808,1)" font-family="'Liberation Serif', serif" font-size="86.69" fill="#222222">0</text>
<text transform="translate(190.96,1521.14) scale(0.9697,1)" font-family="'Liberation Serif', serif" font-size="87.27" fill="#222222">0.5</text>
<text transform="translate(909.63,1521.00) scale(0.9298,1)" font-family="'Liberation Serif', serif" font-size="86.33" fill="#222222">1</text>
<text transform="translate(1563.90,1520.46) scale(1.0025,1)" font-family="'Liberation Serif', serif" font-size="85.53" fill="#222222">1.5</text>
<text transform="translate(2283.19,1521.00) scale(1.0363,1)" font-family="'Liberation Serif', serif" font-size="86.92" fill="#222222">2</text>
<text transform="translate(91.90,1082.32) rotate(-90) scale(1.0504,1)" font-family="'Liberation Serif', serif" font-size="86.76" fill="#222222">Pitch</text>
<text transform="translate(91.52,872.29) rotate(-90) scale(1.0078,1)" font-family="'Liberation Serif', serif" font-size="88.58" fill="#222222">RAO</text>
<text transform="translate(92.44,661.22) rotate(-90) scale(0.8617,1)" font-family="'Liberation Serif', serif" font-size="86.24" fill="#222222">(</text>
<text transform="translate(91.90,634.22) rotate(-90) scale(1.1238,1)" font-family="'Liberation Serif', serif" font-size="86.76" fill="#222222">rad/m</text>
<text transform="translate(92.44,406.28) rotate(-90) scale(0.8818,1)" font-family="'Liberation Serif', serif" font-size="86.24" fill="#222222">)</text>
<text transform="translate(1113.21,1614.55) scale(0.9958,1)" font-family="'Liberation Serif', serif" font-size="80.10" fill="#222222" font-style="italic">ω</text>
<text transform="translate(1192.09,1612.02) scale(0.8359,1)" font-family="'Liberation Serif', serif" font-size="80.81" fill="#222222">(</text>
<text transform="translate(1217.77,1614.30) scale(1.1406,1)" font-family="'Liberation Serif', serif" font-size="85.76" fill="#222222">rad/s</text>
<text transform="translate(1408.12,1612.02) scale(0.9410,1)" font-family="'Liberation Serif', serif" font-size="80.81" fill="#222222">)</text>
<text transform="translate(1178.86,1718.39) scale(0.8489,1)" font-family="'Liberation Serif', serif" font-size="84.61" fill="#000">(</text>
<text transform="translate(1204.80,1718.43) scale(1.0255,1)" font-family="'Liberation Serif', serif" font-size="87.37" fill="#000" font-weight="bold">b</text>
<text transform="translate(1255.42,1718.39) scale(0.8988,1)" font-family="'Liberation Serif', serif" font-size="84.61" fill="#000">)</text>
<text transform="translate(1445.76,146.00) scale(1.0862,1)" font-family="'Liberation Serif', serif" font-size="61.16" fill="#000">Multiple</text>
<text transform="translate(1689.80,146.02) scale(0.9990,1)" font-family="'Liberation Serif', serif" font-size="62.55" fill="#000">WEC</text>
<text transform="translate(1841.83,146.00) scale(1.0923,1)" font-family="'Liberation Serif', serif" font-size="62.50" fill="#000">rotor</text>
<text transform="translate(1986.78,146.00) scale(1.0553,1)" font-family="'Liberation Serif', serif" font-size="61.32" fill="#000">2</text>
<text transform="translate(2034.10,146.41) scale(0.8489,1)" font-family="'Liberation Serif', serif" font-size="60.31" fill="#000">(</text>
<text transform="translate(2055.34,145.45) scale(1.1349,1)" font-family="'Liberation Serif', serif" font-size="57.39" fill="#000" font-style="italic">β</text>
<text transform="translate(2101.58,138.68) scale(1.6492,1)" font-family="'Liberation Sans', serif" font-size="33.28" fill="#000" font-weight="bold">=</text>
<text transform="translate(2146.80,146.14) scale(0.9895,1)" font-family="'Liberation Serif', serif" font-size="61.38" fill="#000">0°</text>
<text transform="translate(2204.11,146.41) scale(0.8989,1)" font-family="'Liberation Serif', serif" font-size="60.31" fill="#000">)</text>
<text transform="translate(1445.76,218.00) scale(1.0862,1)" font-family="'Liberation Serif', serif" font-size="61.16" fill="#000">Multiple</text>
<text transform="translate(1689.80,218.02) scale(0.9990,1)" font-family="'Liberation Serif', serif" font-size="62.55" fill="#000">WEC</text>
<text transform="translate(1841.83,218.00) scale(1.0923,1)" font-family="'Liberation Serif', serif" font-size="62.50" fill="#000">rotor</text>
<text transform="translate(1986.78,218.00) scale(1.0553,1)" font-family="'Liberation Serif', serif" font-size="61.32" fill="#000">2</text>
<text transform="translate(2034.10,218.41) scale(0.8489,1)" font-family="'Liberation Serif', serif" font-size="60.31" fill="#000">(</text>
<text transform="translate(2055.34,217.45) scale(1.1349,1)" font-family="'Liberation Serif', serif" font-size="57.39" fill="#000" font-style="italic">β</text>
<text transform="translate(2101.58,210.68) scale(1.6492,1)" font-family="'Liberation Sans', serif" font-size="33.28" fill="#000" font-weight="bold">=</text>
<text transform="translate(2145.90,218.14) scale(0.9731,1)" font-family="'Liberation Serif', serif" font-size="61.38" fill="#000">30°</text>
<text transform="translate(2232.01,218.41) scale(0.8989,1)" font-family="'Liberation Serif', serif" font-size="60.31" fill="#000">)</text>
<text transform="translate(1445.76,287.00) scale(1.0862,1)" font-family="'Liberation Serif', serif" font-size="61.16" fill="#000">Multiple</text>
<text transform="translate(1689.80,287.02) scale(0.9990,1)" font-family="'Liberation Serif', serif" font-size="62.55" fill="#000">WEC</text>
<text transform="translate(1841.83,287.00) scale(1.0923,1)" font-family="'Liberation Serif', serif" font-size="62.50" fill="#000">rotor</text>
<text transform="translate(1986.78,287.00) scale(1.0553,1)" font-family="'Liberation Serif', serif" font-size="61.32" fill="#000">2</text>
<text transform="translate(2034.10,287.41) scale(0.8489,1)" font-family="'Liberation Serif', serif" font-size="60.31" fill="#000">(</text>
<text transform="translate(2055.34,286.45) scale(1.1349,1)" font-family="'Liberation Serif', serif" font-size="57.39" fill="#000" font-style="italic">β</text>
<text transform="translate(2101.58,279.68) scale(1.6492,1)" font-family="'Liberation Sans', serif" font-size="33.28" fill="#000" font-weight="bold">=</text>
<text transform="translate(2146.86,287.14) scale(0.9617,1)" font-family="'Liberation Serif', serif" font-size="61.38" fill="#000">60°</text>
<text transform="translate(2232.01,287.41) scale(0.8989,1)" font-family="'Liberation Serif', serif" font-size="60.31" fill="#000">)</text>
<text transform="translate(1443.78,358.60) scale(1.0577,1)" font-family="'Liberation Serif', serif" font-size="60.87" fill="#000">Single</text>
<text transform="translate(1625.20,359.01) scale(0.8489,1)" font-family="'Liberation Serif', serif" font-size="60.31" fill="#000">(</text>
<text transform="translate(1646.44,358.05) scale(1.1349,1)" font-family="'Liberation Serif', serif" font-size="57.39" fill="#000" font-style="italic">β</text>
<text transform="translate(1692.68,351.28) scale(1.6492,1)" font-family="'Liberation Sans', serif" font-size="33.28" fill="#000" font-weight="bold">=</text>
<text transform="translate(1736.66,358.74) scale(1.0112,1)" font-family="'Liberation Serif', serif" font-size="61.38" fill="#000">0°</text>
<text transform="translate(1794.21,359.01) scale(0.8989,1)" font-family="'Liberation Serif', serif" font-size="60.31" fill="#000">)</text>
<text transform="translate(1443.78,428.00) scale(1.0577,1)" font-family="'Liberation Serif', serif" font-size="60.87" fill="#000">Single</text>
<text transform="translate(1625.20,428.41) scale(0.8489,1)" font-family="'Liberation Serif', serif" font-size="60.31" fill="#000">(</text>
<text transform="translate(1646.44,427.45) scale(1.1349,1)" font-family="'Liberation Serif', serif" font-size="57.39" fill="#000" font-style="italic">β</text>
<text transform="translate(1692.68,420.68) scale(1.6492,1)" font-family="'Liberation Sans', serif" font-size="33.28" fill="#000" font-weight="bold">=</text>
<text transform="translate(1735.77,428.14) scale(0.9831,1)" font-family="'Liberation Serif', serif" font-size="61.38" fill="#000">30°</text>
<text transform="translate(1822.01,428.41) scale(0.8989,1)" font-family="'Liberation Serif', serif" font-size="60.31" fill="#000">)</text>
<text transform="translate(1443.78,499.80) scale(1.0577,1)" font-family="'Liberation Serif', serif" font-size="60.87" fill="#000">Single</text>
<text transform="translate(1610.20,500.21) scale(0.8489,1)" font-family="'Liberation Serif', serif" font-size="60.31" fill="#000">(</text>
<text transform="translate(1631.44,499.25) scale(1.1349,1)" font-family="'Liberation Serif', serif" font-size="57.39" fill="#000" font-style="italic">β</text>
<text transform="translate(1677.68,492.48) scale(1.6492,1)" font-family="'Liberation Sans', serif" font-size="33.28" fill="#000" font-weight="bold">=</text>
<text transform="translate(1724.14,499.94) scale(0.9691,1)" font-family="'Liberation Serif', serif" font-size="61.38" fill="#000">60°</text>
<text transform="translate(1809.91,500.21) scale(0.8989,1)" font-family="'Liberation Serif', serif" font-size="60.31" fill="#000">)</text>
</g>
<g id="plot-c">
<rect x="245.5" y="1871.5" width="2061.0" height="1374.0" fill="none" stroke="#222222" stroke-width="3"/>
<path d="M932.5,3245.5v-21.5M932.5,1871.5v21.5M1619.5,3245.5v-21.5M1619.5,1871.5v21.5M245.5,2787.5h21.5M2306.5,2787.5h-21.5M245.5,2329.5h21.5M2306.5,2329.5h-21.5" stroke="#222222" stroke-width="3" fill="none"/>
<g shape-rendering="crispEdges">
<path d="M245.5,2839.5 L249.5,2839.0 L253.5,2838.4 L257.5,2837.9 L261.5,2837.3 L265.5,2836.7 L269.5,2836.0 L273.5,2835.4 L277.5,2834.7 L281.5,2834.0 L285.5,2833.3 L289.5,2832.6 L293.5,2831.8 L297.5,2831.1 L301.5,2830.3 L305.5,2829.5 L309.5,2828.7 L313.5,2827.9 L317.5,2827.1 L321.5,2826.3 L325.5,2825.4 L329.5,2824.6 L333.5,2823.7 L337.5,2822.9 L341.5,2822.0 L345.5,2821.2 L349.5,2820.3 L353.5,2819.4 L357.5,2818.5 L361.5,2817.7 L365.5,2816.8 L369.5,2815.9 L373.5,2815.0 L377.5,2814.2 L381.5,2813.3 L385.5,2812.4 L389.5,2811.4 L393.5,2810.5 L397.5,2809.6 L401.5,2808.6 L405.5,2807.7 L409.5,2806.7 L413.5,2805.7 L417.5,2804.7 L421.5,2803.7 L425.5,2802.7 L429.5,2801.6 L433.5,2800.6 L437.5,2799.5 L441.5,2798.5 L445.5,2797.4 L449.5,2796.3 L453.5,2795.2 L457.5,2794.1 L461.5,2793.0 L465.5,2792.0 L469.5,2790.9 L473.5,2789.8 L477.5,2788.7 L481.5,2787.6 L485.5,2786.4 L489.5,2785.3 L493.5,2784.1 L497.5,2782.9 L501.5,2781.6 L505.5,2780.3 L509.5,2778.9 L513.5,2777.5 L517.5,2776.1 L521.5,2774.5 L525.5,2772.9 L529.5,2771.3 L533.5,2769.6 L537.5,2767.8 L541.5,2766.0 L545.5,2764.1 L549.5,2762.3 L553.5,2760.4 L557.5,2758.5 L561.5,2756.6 L565.5,2754.7 L569.5,2752.7 L573.5,2750.8 L577.5,2748.9 L581.5,2747.1 L585.5,2745.2 L589.5,2743.4 L593.5,2741.5 L597.5,2739.7 L601.5,2737.9 L605.5,2736.0 L609.5,2734.2 L613.5,2732.4 L617.5,2730.5 L621.5,2728.6 L625.5,2726.8 L629.5,2724.8 L633.5,2722.9 L637.5,2721.0 L641.5,2719.0 L645.5,2717.0 L649.5,2714.9 L653.5,2712.9 L657.5,2710.8 L661.5,2708.7 L665.5,2706.5 L669.5,2704.3 L673.5,2702.1 L677.5,2699.9 L681.5,2697.6 L685.5,2695.3 L689.5,2693.0 L693.5,2690.6 L697.5,2688.2 L701.5,2685.8 L705.5,2683.3 L709.5,2680.8 L713.5,2678.2 L717.5,2675.7 L721.5,2673.1 L725.5,2670.4 L729.5,2667.8 L733.5,2665.1 L737.5,2662.3 L741.5,2659.6 L745.5,2656.8 L749.5,2653.9 L753.5,2651.0 L757.5,2648.1 L761.5,2645.2 L765.5,2642.2 L769.5,2639.2 L773.5,2636.2 L777.5,2633.1 L781.5,2629.9 L785.5,2626.8 L789.5,2623.6 L793.5,2620.3 L797.5,2617.0 L801.5,2613.7 L805.5,2610.3 L809.5,2606.9 L813.5,2603.4 L817.5,2599.9 L821.5,2596.4 L825.5,2592.8 L829.5,2589.2 L833.5,2585.6 L837.5,2581.9 L841.5,2578.1 L845.5,2574.3 L849.5,2570.5 L853.5,2566.7 L857.5,2562.8 L861.5,2558.9 L865.5,2554.9 L869.5,2550.9 L873.5,2546.8 L877.5,2542.7 L881.5,2538.5 L885.5,2534.3 L889.5,2530.1 L893.5,2525.8 L897.5,2521.4 L901.5,2516.9 L905.5,2512.5 L909.5,2507.9 L913.5,2503.3 L917.5,2498.6 L921.5,2493.9 L925.5,2489.1 L929.5,2484.3 L933.5,2479.4 L937.5,2474.4 L941.5,2469.4 L945.5,2464.3 L949.5,2459.2 L953.5,2454.0 L957.5,2448.8 L961.5,2443.5 L965.5,2438.1 L969.5,2432.8 L973.5,2427.4 L977.5,2421.9 L981.5,2416.5 L985.5,2411.0 L989.5,2405.6 L993.5,2400.2 L997.5,2394.8 L1001.5,2389.5 L1005.5,2384.2 L1009.5,2379.0 L1013.5,2373.8 L1017.5,2368.8 L1021.5,2363.8 L1025.5,2358.9 L1029.5,2354.0 L1033.5,2349.2 L1037.5,2344.5 L1041.5,2339.8 L1045.5,2335.1 L1049.5,2330.5 L1053.5,2325.8 L1057.5,2321.2 L1061.5,2316.7 L1065.5,2312.1 L1069.5,2307.5 L1073.5,2302.8 L1077.5,2298.2 L1081.5,2293.6 L1085.5,2289.0 L1089.5,2284.5 L1093.5,2280.0 L1097.5,2275.6 L1101.5,2271.2 L1105.5,2266.9 L1109.5,2262.8 L1113.5,2258.7 L1117.5,2254.8 L1121.5,2251.0 L1125.5,2247.4 L1129.5,2244.0 L1133.5,2240.7 L1137.5,2237.6 L1141.5,2234.7 L1145.5,2231.9 L1149.5,2229.3 L1153.5,2226.9 L1157.5,2224.6 L1161.5,2222.6 L1165.5,2220.7 L1169.5,2218.9 L1173.5,2217.3 L1177.5,2215.9 L1181.5,2214.7 L1185.5,2213.6 L1189.5,2212.8 L1193.5,2212.1 L1197.5,2211.5 L1201.5,2211.2 L1205.5,2211.0 L1209.5,2211.0 L1213.5,2211.2 L1217.5,2211.6 L1221.5,2212.2 L1225.5,2212.8 L1229.5,2213.7 L1233.5,2214.7 L1237.5,2215.8 L1241.5,2217.0 L1245.5,2218.4 L1249.5,2219.9 L1253.5,2221.5 L1257.5,2223.3 L1261.5,2225.3 L1265.5,2227.4 L1269.5,2229.7 L1273.5,2232.2 L1277.5,2234.8 L1281.5,2237.6 L1285.5,2240.6 L1289.5,2243.8 L1293.5,2247.2 L1297.5,2250.8 L1301.5,2254.5 L1305.5,2258.4 L1309.5,2262.4 L1313.5,2266.6 L1317.5,2270.8 L1321.5,2275.1 L1325.5,2279.5 L1329.5,2283.9 L1333.5,2288.4 L1337.5,2292.9 L1341.5,2297.4 L1345.5,2301.9 L1349.5,2306.4 L1353.5,2310.8 L1357.5,2315.2 L1361.5,2319.6 L1365.5,2324.1 L1369.5,2328.5 L1373.5,2333.0 L1377.5,2337.4 L1381.5,2341.9 L1385.5,2346.5 L1389.5,2351.1 L1393.5,2355.7 L1397.5,2360.4 L1401.5,2365.2 L1405.5,2370.0 L1409.5,2374.9 L1413.5,2379.9 L1417.5,2384.9 L1421.5,2389.9 L1425.5,2394.9 L1429.5,2400.0 L1433.5,2405.1 L1437.5,2410.1 L1441.5,2415.2 L1445.5,2420.2 L1449.5,2425.2 L1453.5,2430.1 L1457.5,2435.0 L1461.5,2439.9 L1465.5,2444.7 L1469.5,2449.5 L1473.5,2454.2 L1477.5,2458.9 L1481.5,2463.5 L1485.5,2468.2 L1489.5,2472.8 L1493.5,2477.3 L1497.5,2481.9 L1501.5,2486.4 L1505.5,2490.9 L1509.5,2495.4 L1513.5,2499.9 L1517.5,2504.4 L1521.5,2508.8 L1525.5,2513.2 L1529.5,2517.6 L1533.5,2522.0 L1537.5,2526.4 L1541.5,2530.7 L1545.5,2535.0 L1549.5,2539.3 L1553.5,2543.5 L1557.5,2547.7 L1561.5,2551.9 L1565.5,2556.0 L1569.5,2560.1 L1573.5,2564.1 L1577.5,2568.1 L1581.5,2572.0 L1585.5,2575.9 L1589.5,2579.8 L1593.5,2583.7 L1597.5,2587.5 L1601.5,2591.3 L1605.5,2595.0 L1609.5,2598.8 L1613.5,2602.5 L1617.5,2606.2 L1621.5,2609.8 L1625.5,2613.5 L1629.5,2617.1 L1633.5,2620.7 L1637.5,2624.3 L1641.5,2627.9 L1645.5,2631.4 L1649.5,2634.9 L1653.5,2638.4 L1657.5,2641.8 L1661.5,2645.2 L1665.5,2648.6 L1669.5,2651.9 L1673.5,2655.2 L1677.5,2658.5 L1681.5,2661.7 L1685.5,2664.8 L1689.5,2667.9 L1693.5,2671.0 L1697.5,2674.0 L1701.5,2677.0 L1705.5,2679.9 L1709.5,2682.8 L1713.5,2685.7 L1717.5,2688.4 L1721.5,2691.2 L1725.5,2693.9 L1729.5,2696.6 L1733.5,2699.2 L1737.5,2701.7 L1741.5,2704.3 L1745.5,2706.8 L1749.5,2709.3 L1753.5,2711.7 L1757.5,2714.2 L1761.5,2716.6 L1765.5,2719.1 L1769.5,2721.6 L1773.5,2724.1 L1777.5,2726.6 L1781.5,2729.1 L1785.5,2731.7 L1789.5,2734.4 L1793.5,2737.0 L1797.5,2739.7 L1801.5,2742.4 L1805.5,2745.1 L1809.5,2747.9 L1813.5,2750.6 L1817.5,2753.3 L1821.5,2756.1 L1825.5,2758.8 L1829.5,2761.5 L1833.5,2764.2 L1837.5,2766.8 L1841.5,2769.4 L1845.5,2772.0 L1849.5,2774.5 L1853.5,2777.0 L1857.5,2779.5 L1861.5,2781.9 L1865.5,2784.3 L1869.5,2786.7 L1873.5,2789.0 L1877.5,2791.4 L1881.5,2793.7 L1885.5,2796.0 L1889.5,2798.3 L1893.5,2800.5 L1897.5,2802.8 L1901.5,2805.1 L1905.5,2807.3 L1909.5,2809.5 L1913.5,2811.8 L1917.5,2814.0 L1921.5,2816.2 L1925.5,2818.3 L1929.5,2820.5 L1933.5,2822.7 L1937.5,2824.8 L1941.5,2826.9 L1945.5,2829.0 L1949.5,2831.1 L1953.5,2833.2 L1957.5,2835.3 L1961.5,2837.3 L1965.5,2839.3 L1969.5,2841.3 L1973.5,2843.3 L1977.5,2845.3 L1981.5,2847.2 L1985.5,2849.2 L1989.5,2851.1 L1993.5,2853.0 L1997.5,2854.9 L2001.5,2856.7 L2005.5,2858.6 L2009.5,2860.4 L2013.5,2862.2 L2017.5,2864.0 L2021.5,2865.8 L2025.5,2867.6 L2029.5,2869.4 L2033.5,2871.2 L2037.5,2872.9 L2041.5,2874.7 L2045.5,2876.5 L2049.5,2878.2 L2053.5,2880.0 L2057.5,2881.8 L2061.5,2883.5 L2065.5,2885.3 L2069.5,2887.1 L2073.5,2888.9 L2077.5,2890.6 L2081.5,2892.4 L2085.5,2894.2 L2089.5,2896.0 L2093.5,2897.7 L2097.5,2899.5 L2101.5,2901.2 L2105.5,2902.9 L2109.5,2904.6 L2113.5,2906.3 L2117.5,2908.0 L2121.5,2909.7 L2125.5,2911.3 L2129.5,2912.9 L2133.5,2914.5 L2137.5,2916.1 L2141.5,2917.7 L2145.5,2919.2 L2149.5,2920.8 L2153.5,2922.4 L2157.5,2923.9 L2161.5,2925.5 L2165.5,2927.0 L2169.5,2928.6 L2173.5,2930.1 L2177.5,2931.6 L2181.5,2933.2 L2185.5,2934.7 L2189.5,2936.3 L2193.5,2937.8 L2197.5,2939.3 L2201.5,2940.8 L2205.5,2942.3 L2209.5,2943.8 L2213.5,2945.2 L2217.5,2946.7 L2221.5,2948.1 L2225.5,2949.5 L2229.5,2950.9 L2233.5,2952.2 L2237.5,2953.6 L2241.5,2954.9 L2245.5,2956.2 L2249.5,2957.5 L2253.5,2958.8 L2257.5,2960.0 L2261.5,2961.3 L2265.5,2962.5 L2269.5,2963.8 L2273.5,2965.1 L2277.5,2966.3 L2281.5,2967.6 L2285.5,2968.9 L2289.5,2970.1 L2293.5,2971.4 L2297.5,2972.7 L2301.5,2974.0 L2305.5,2975.4 L2306.5,2975.7" fill="none" stroke="#000" stroke-width="5.8" stroke-linejoin="round"/>
<path d="M245.5,2840.5 L249.5,2840.0 L253.5,2839.4 L257.5,2838.8 L261.5,2838.3 L265.5,2837.7 L269.5,2837.1 L273.5,2836.5 L277.5,2835.8 L281.5,2835.2 L285.5,2834.5 L289.5,2833.9 L293.5,2833.2 L297.5,2832.5 L301.5,2831.8 L305.5,2831.1 L309.5,2830.4 L313.5,2829.7 L317.5,2828.9 L321.5,2828.2 L325.5,2827.4 L329.5,2826.7 L333.5,2825.9 L337.5,2825.1 L341.5,2824.3 L345.5,2823.5 L349.5,2822.7 L353.5,2821.9 L357.5,2821.1 L361.5,2820.2 L365.5,2819.4 L369.5,2818.6 L373.5,2817.7 L377.5,2816.9 L381.5,2816.0 L385.5,2815.1 L389.5,2814.2 L393.5,2813.3 L397.5,2812.4 L401.5,2811.5 L405.5,2810.6 L409.5,2809.7 L413.5,2808.8 L417.5,2807.8 L421.5,2806.9 L425.5,2805.9 L429.5,2805.0 L433.5,2804.0 L437.5,2803.0 L441.5,2802.0 L445.5,2801.0 L449.5,2800.0 L453.5,2799.0 L457.5,2798.0 L461.5,2797.0 L465.5,2796.0 L469.5,2794.9 L473.5,2793.9 L477.5,2792.8 L481.5,2791.7 L485.5,2790.6 L489.5,2789.5 L493.5,2788.4 L497.5,2787.2 L501.5,2786.0 L505.5,2784.8 L509.5,2783.5 L513.5,2782.3 L517.5,2780.9 L521.5,2779.6 L525.5,2778.2 L529.5,2776.8 L533.5,2775.3 L537.5,2773.8 L541.5,2772.3 L545.5,2770.8 L549.5,2769.2 L553.5,2767.7 L557.5,2766.1 L561.5,2764.5 L565.5,2762.9 L569.5,2761.3 L573.5,2759.7 L577.5,2758.1 L581.5,2756.5 L585.5,2754.9 L589.5,2753.3 L593.5,2751.8 L597.5,2750.2 L601.5,2748.5 L605.5,2746.9 L609.5,2745.3 L613.5,2743.6 L617.5,2742.0 L621.5,2740.3 L625.5,2738.6 L629.5,2736.8 L633.5,2735.0 L637.5,2733.2 L641.5,2731.4 L645.5,2729.5 L649.5,2727.6 L653.5,2725.7 L657.5,2723.7 L661.5,2721.7 L665.5,2719.6 L669.5,2717.6 L673.5,2715.4 L677.5,2713.3 L681.5,2711.1 L685.5,2708.8 L689.5,2706.5 L693.5,2704.2 L697.5,2701.8 L701.5,2699.4 L705.5,2697.0 L709.5,2694.5 L713.5,2692.1 L717.5,2689.5 L721.5,2687.0 L725.5,2684.5 L729.5,2681.9 L733.5,2679.3 L737.5,2676.7 L741.5,2674.1 L745.5,2671.5 L749.5,2668.9 L753.5,2666.2 L757.5,2663.6 L761.5,2660.9 L765.5,2658.2 L769.5,2655.5 L773.5,2652.7 L777.5,2649.9 L781.5,2647.0 L785.5,2644.1 L789.5,2641.2 L793.5,2638.2 L797.5,2635.2 L801.5,2632.1 L805.5,2628.9 L809.5,2625.7 L813.5,2622.4 L817.5,2619.1 L821.5,2615.8 L825.5,2612.4 L829.5,2609.0 L833.5,2605.6 L837.5,2602.1 L841.5,2598.6 L845.5,2595.1 L849.5,2591.5 L853.5,2587.9 L857.5,2584.3 L861.5,2580.7 L865.5,2577.1 L869.5,2573.4 L873.5,2569.6 L877.5,2565.9 L881.5,2562.1 L885.5,2558.2 L889.5,2554.3 L893.5,2550.3 L897.5,2546.3 L901.5,2542.2 L905.5,2538.0 L909.5,2533.8 L913.5,2529.4 L917.5,2525.1 L921.5,2520.7 L925.5,2516.2 L929.5,2511.7 L933.5,2507.2 L937.5,2502.6 L941.5,2498.1 L945.5,2493.5 L949.5,2488.9 L953.5,2484.4 L957.5,2479.8 L961.5,2475.3 L965.5,2470.8 L969.5,2466.3 L973.5,2461.9 L977.5,2457.4 L981.5,2453.0 L985.5,2448.6 L989.5,2444.1 L993.5,2439.7 L997.5,2435.3 L1001.5,2430.9 L1005.5,2426.5 L1009.5,2422.1 L1013.5,2417.6 L1017.5,2413.1 L1021.5,2408.7 L1025.5,2404.2 L1029.5,2399.7 L1033.5,2395.2 L1037.5,2390.7 L1041.5,2386.2 L1045.5,2381.8 L1049.5,2377.4 L1053.5,2373.0 L1057.5,2368.6 L1061.5,2364.2 L1065.5,2360.0 L1069.5,2355.7 L1073.5,2351.5 L1077.5,2347.4 L1081.5,2343.3 L1085.5,2339.4 L1089.5,2335.4 L1093.5,2331.6 L1097.5,2327.9 L1101.5,2324.2 L1105.5,2320.7 L1109.5,2317.2 L1113.5,2313.9 L1117.5,2310.6 L1121.5,2307.5 L1125.5,2304.5 L1129.5,2301.7 L1133.5,2299.0 L1137.5,2296.4 L1141.5,2294.0 L1145.5,2291.7 L1149.5,2289.6 L1153.5,2287.7 L1157.5,2286.0 L1161.5,2284.4 L1165.5,2283.1 L1169.5,2281.9 L1173.5,2281.0 L1177.5,2280.3 L1181.5,2279.8 L1185.5,2279.6 L1189.5,2279.5 L1193.5,2279.5 L1197.5,2279.5 L1201.5,2279.6 L1205.5,2279.8 L1209.5,2280.0 L1213.5,2280.4 L1217.5,2280.8 L1221.5,2281.4 L1225.5,2282.1 L1229.5,2283.0 L1233.5,2284.1 L1237.5,2285.4 L1241.5,2286.9 L1245.5,2288.6 L1249.5,2290.5 L1253.5,2292.5 L1257.5,2294.8 L1261.5,2297.2 L1265.5,2299.8 L1269.5,2302.5 L1273.5,2305.4 L1277.5,2308.4 L1281.5,2311.6 L1285.5,2314.9 L1289.5,2318.3 L1293.5,2321.8 L1297.5,2325.4 L1301.5,2329.2 L1305.5,2333.0 L1309.5,2336.9 L1313.5,2340.9 L1317.5,2345.0 L1321.5,2349.1 L1325.5,2353.4 L1329.5,2357.6 L1333.5,2361.9 L1337.5,2366.3 L1341.5,2370.7 L1345.5,2375.2 L1349.5,2379.7 L1353.5,2384.2 L1357.5,2388.7 L1361.5,2393.3 L1365.5,2397.9 L1369.5,2402.5 L1373.5,2407.1 L1377.5,2411.7 L1381.5,2416.3 L1385.5,2421.0 L1389.5,2425.6 L1393.5,2430.3 L1397.5,2434.9 L1401.5,2439.5 L1405.5,2444.2 L1409.5,2448.8 L1413.5,2453.4 L1417.5,2458.0 L1421.5,2462.6 L1425.5,2467.2 L1429.5,2471.8 L1433.5,2476.4 L1437.5,2481.0 L1441.5,2485.6 L1445.5,2490.1 L1449.5,2494.7 L1453.5,2499.2 L1457.5,2503.8 L1461.5,2508.3 L1465.5,2512.8 L1469.5,2517.3 L1473.5,2521.8 L1477.5,2526.3 L1481.5,2530.8 L1485.5,2535.2 L1489.5,2539.6 L1493.5,2544.1 L1497.5,2548.4 L1501.5,2552.8 L1505.5,2557.1 L1509.5,2561.4 L1513.5,2565.7 L1517.5,2569.9 L1521.5,2574.1 L1525.5,2578.3 L1529.5,2582.4 L1533.5,2586.5 L1537.5,2590.5 L1541.5,2594.5 L1545.5,2598.5 L1549.5,2602.4 L1553.5,2606.2 L1557.5,2610.0 L1561.5,2613.7 L1565.5,2617.4 L1569.5,2621.0 L1573.5,2624.5 L1577.5,2628.0 L1581.5,2631.5 L1585.5,2634.9 L1589.5,2638.3 L1593.5,2641.7 L1597.5,2645.0 L1601.5,2648.4 L1605.5,2651.7 L1609.5,2655.1 L1613.5,2658.4 L1617.5,2661.8 L1621.5,2665.2 L1625.5,2668.6 L1629.5,2672.1 L1633.5,2675.5 L1637.5,2678.9 L1641.5,2682.3 L1645.5,2685.8 L1649.5,2689.1 L1653.5,2692.5 L1657.5,2695.8 L1661.5,2699.0 L1665.5,2702.2 L1669.5,2705.3 L1673.5,2708.3 L1677.5,2711.2 L1681.5,2714.1 L1685.5,2716.9 L1689.5,2719.6 L1693.5,2722.2 L1697.5,2724.8 L1701.5,2727.3 L1705.5,2729.9 L1709.5,2732.3 L1713.5,2734.8 L1717.5,2737.2 L1721.5,2739.7 L1725.5,2742.1 L1729.5,2744.5 L1733.5,2747.0 L1737.5,2749.5 L1741.5,2752.0 L1745.5,2754.5 L1749.5,2757.0 L1753.5,2759.5 L1757.5,2762.0 L1761.5,2764.5 L1765.5,2767.0 L1769.5,2769.5 L1773.5,2771.9 L1777.5,2774.4 L1781.5,2776.8 L1785.5,2779.3 L1789.5,2781.7 L1793.5,2784.1 L1797.5,2786.4 L1801.5,2788.8 L1805.5,2791.1 L1809.5,2793.4 L1813.5,2795.7 L1817.5,2798.0 L1821.5,2800.2 L1825.5,2802.5 L1829.5,2804.7 L1833.5,2806.8 L1837.5,2809.0 L1841.5,2811.2 L1845.5,2813.3 L1849.5,2815.4 L1853.5,2817.5 L1857.5,2819.5 L1861.5,2821.6 L1865.5,2823.6 L1869.5,2825.6 L1873.5,2827.6 L1877.5,2829.6 L1881.5,2831.5 L1885.5,2833.5 L1889.5,2835.4 L1893.5,2837.3 L1897.5,2839.2 L1901.5,2841.1 L1905.5,2843.0 L1909.5,2844.8 L1913.5,2846.7 L1917.5,2848.5 L1921.5,2850.3 L1925.5,2852.1 L1929.5,2853.9 L1933.5,2855.7 L1937.5,2857.5 L1941.5,2859.3 L1945.5,2861.0 L1949.5,2862.8 L1953.5,2864.6 L1957.5,2866.3 L1961.5,2868.0 L1965.5,2869.8 L1969.5,2871.5 L1973.5,2873.2 L1977.5,2874.9 L1981.5,2876.6 L1985.5,2878.3 L1989.5,2879.9 L1993.5,2881.6 L1997.5,2883.2 L2001.5,2884.9 L2005.5,2886.5 L2009.5,2888.1 L2013.5,2889.8 L2017.5,2891.4 L2021.5,2893.0 L2025.5,2894.5 L2029.5,2896.1 L2033.5,2897.7 L2037.5,2899.2 L2041.5,2900.8 L2045.5,2902.3 L2049.5,2903.8 L2053.5,2905.4 L2057.5,2906.9 L2061.5,2908.4 L2065.5,2909.9 L2069.5,2911.3 L2073.5,2912.8 L2077.5,2914.3 L2081.5,2915.7 L2085.5,2917.2 L2089.5,2918.6 L2093.5,2920.0 L2097.5,2921.5 L2101.5,2922.9 L2105.5,2924.3 L2109.5,2925.7 L2113.5,2927.1 L2117.5,2928.5 L2121.5,2929.8 L2125.5,2931.2 L2129.5,2932.6 L2133.5,2933.9 L2137.5,2935.3 L2141.5,2936.6 L2145.5,2938.0 L2149.5,2939.3 L2153.5,2940.7 L2157.5,2942.1 L2161.5,2943.4 L2165.5,2944.8 L2169.5,2946.1 L2173.5,2947.5 L2177.5,2948.9 L2181.5,2950.3 L2185.5,2951.6 L2189.5,2953.0 L2193.5,2954.4 L2197.5,2955.8 L2201.5,2957.1 L2205.5,2958.5 L2209.5,2959.8 L2213.5,2961.2 L2217.5,2962.5 L2221.5,2963.9 L2225.5,2965.2 L2229.5,2966.5 L2233.5,2967.8 L2237.5,2969.0 L2241.5,2970.3 L2245.5,2971.6 L2249.5,2972.9 L2253.5,2974.1 L2257.5,2975.4 L2261.5,2976.7 L2265.5,2977.9 L2269.5,2979.2 L2273.5,2980.5 L2277.5,2981.8 L2281.5,2983.1 L2285.5,2984.4 L2289.5,2985.8 L2293.5,2987.1 L2297.5,2988.5 L2301.5,2989.9 L2305.5,2991.3 L2306.5,2991.7" fill="none" stroke="#000" stroke-width="5.8" stroke-dasharray="32 18.03" stroke-linejoin="round"/>
<path d="M245.5,2843.0 L249.5,2842.6 L253.5,2842.1 L257.5,2841.7 L261.5,2841.2 L265.5,2840.7 L269.5,2840.1 L273.5,2839.6 L277.5,2839.0 L281.5,2838.4 L285.5,2837.8 L289.5,2837.2 L293.5,2836.6 L297.5,2836.0 L301.5,2835.3 L305.5,2834.7 L309.5,2834.0 L313.5,2833.3 L317.5,2832.6 L321.5,2832.0 L325.5,2831.3 L329.5,2830.6 L333.5,2829.9 L337.5,2829.2 L341.5,2828.5 L345.5,2827.7 L349.5,2827.0 L353.5,2826.3 L357.5,2825.6 L361.5,2824.9 L365.5,2824.2 L369.5,2823.5 L373.5,2822.8 L377.5,2822.1 L381.5,2821.4 L385.5,2820.7 L389.5,2820.0 L393.5,2819.2 L397.5,2818.5 L401.5,2817.7 L405.5,2817.0 L409.5,2816.2 L413.5,2815.4 L417.5,2814.5 L421.5,2813.7 L425.5,2812.9 L429.5,2812.0 L433.5,2811.1 L437.5,2810.2 L441.5,2809.4 L445.5,2808.5 L449.5,2807.6 L453.5,2806.7 L457.5,2805.8 L461.5,2804.9 L465.5,2804.0 L469.5,2803.1 L473.5,2802.2 L477.5,2801.3 L481.5,2800.4 L485.5,2799.4 L489.5,2798.5 L493.5,2797.6 L497.5,2796.6 L501.5,2795.6 L505.5,2794.6 L509.5,2793.5 L513.5,2792.4 L517.5,2791.3 L521.5,2790.1 L525.5,2788.9 L529.5,2787.7 L533.5,2786.4 L537.5,2785.1 L541.5,2783.8 L545.5,2782.4 L549.5,2781.0 L553.5,2779.7 L557.5,2778.3 L561.5,2776.8 L565.5,2775.4 L569.5,2774.0 L573.5,2772.6 L577.5,2771.2 L581.5,2769.8 L585.5,2768.5 L589.5,2767.1 L593.5,2765.7 L597.5,2764.3 L601.5,2763.0 L605.5,2761.6 L609.5,2760.2 L613.5,2758.9 L617.5,2757.5 L621.5,2756.1 L625.5,2754.7 L629.5,2753.3 L633.5,2751.8 L637.5,2750.4 L641.5,2748.9 L645.5,2747.4 L649.5,2745.9 L653.5,2744.4 L657.5,2742.9 L661.5,2741.3 L665.5,2739.7 L669.5,2738.1 L673.5,2736.5 L677.5,2734.8 L681.5,2733.1 L685.5,2731.4 L689.5,2729.6 L693.5,2727.8 L697.5,2726.0 L701.5,2724.1 L705.5,2722.2 L709.5,2720.3 L713.5,2718.4 L717.5,2716.5 L721.5,2714.5 L725.5,2712.5 L729.5,2710.5 L733.5,2708.4 L737.5,2706.4 L741.5,2704.3 L745.5,2702.2 L749.5,2700.1 L753.5,2698.0 L757.5,2695.8 L761.5,2693.7 L765.5,2691.5 L769.5,2689.3 L773.5,2687.0 L777.5,2684.8 L781.5,2682.5 L785.5,2680.2 L789.5,2677.8 L793.5,2675.5 L797.5,2673.1 L801.5,2670.6 L805.5,2668.1 L809.5,2665.6 L813.5,2663.1 L817.5,2660.6 L821.5,2658.0 L825.5,2655.4 L829.5,2652.8 L833.5,2650.1 L837.5,2647.5 L841.5,2644.8 L845.5,2642.1 L849.5,2639.4 L853.5,2636.7 L857.5,2633.9 L861.5,2631.2 L865.5,2628.4 L869.5,2625.6 L873.5,2622.8 L877.5,2619.9 L881.5,2617.1 L885.5,2614.2 L889.5,2611.2 L893.5,2608.3 L897.5,2605.2 L901.5,2602.2 L905.5,2599.1 L909.5,2596.0 L913.5,2592.9 L917.5,2589.7 L921.5,2586.4 L925.5,2583.2 L929.5,2579.9 L933.5,2576.7 L937.5,2573.4 L941.5,2570.1 L945.5,2566.8 L949.5,2563.5 L953.5,2560.3 L957.5,2557.0 L961.5,2553.8 L965.5,2550.5 L969.5,2547.3 L973.5,2544.2 L977.5,2541.0 L981.5,2537.8 L985.5,2534.7 L989.5,2531.6 L993.5,2528.5 L997.5,2525.4 L1001.5,2522.3 L1005.5,2519.2 L1009.5,2516.2 L1013.5,2513.1 L1017.5,2510.0 L1021.5,2507.0 L1025.5,2504.0 L1029.5,2501.0 L1033.5,2498.0 L1037.5,2495.1 L1041.5,2492.1 L1045.5,2489.3 L1049.5,2486.5 L1053.5,2483.7 L1057.5,2481.0 L1061.5,2478.3 L1065.5,2475.7 L1069.5,2473.2 L1073.5,2470.8 L1077.5,2468.5 L1081.5,2466.2 L1085.5,2464.0 L1089.5,2461.9 L1093.5,2459.8 L1097.5,2457.9 L1101.5,2455.9 L1105.5,2454.1 L1109.5,2452.3 L1113.5,2450.6 L1117.5,2448.9 L1121.5,2447.3 L1125.5,2445.8 L1129.5,2444.3 L1133.5,2442.8 L1137.5,2441.5 L1141.5,2440.3 L1145.5,2439.2 L1149.5,2438.3 L1153.5,2437.5 L1157.5,2437.0 L1161.5,2436.6 L1165.5,2436.4 L1169.5,2436.5 L1173.5,2436.8 L1177.5,2437.2 L1181.5,2437.8 L1185.5,2438.5 L1189.5,2439.3 L1193.5,2440.3 L1197.5,2441.4 L1201.5,2442.6 L1205.5,2444.0 L1209.5,2445.5 L1213.5,2447.2 L1217.5,2448.9 L1221.5,2450.8 L1225.5,2452.8 L1229.5,2455.0 L1233.5,2457.2 L1237.5,2459.6 L1241.5,2462.2 L1245.5,2464.8 L1249.5,2467.6 L1253.5,2470.4 L1257.5,2473.4 L1261.5,2476.4 L1265.5,2479.6 L1269.5,2482.9 L1273.5,2486.2 L1277.5,2489.6 L1281.5,2493.1 L1285.5,2496.7 L1289.5,2500.3 L1293.5,2504.0 L1297.5,2507.7 L1301.5,2511.5 L1305.5,2515.4 L1309.5,2519.3 L1313.5,2523.3 L1317.5,2527.4 L1321.5,2531.5 L1325.5,2535.7 L1329.5,2539.9 L1333.5,2544.2 L1337.5,2548.5 L1341.5,2552.9 L1345.5,2557.4 L1349.5,2561.9 L1353.5,2566.5 L1357.5,2571.1 L1361.5,2575.7 L1365.5,2580.4 L1369.5,2585.0 L1373.5,2589.7 L1377.5,2594.4 L1381.5,2599.1 L1385.5,2603.7 L1389.5,2608.4 L1393.5,2613.0 L1397.5,2617.5 L1401.5,2622.1 L1405.5,2626.6 L1409.5,2631.0 L1413.5,2635.4 L1417.5,2639.7 L1421.5,2644.1 L1425.5,2648.3 L1429.5,2652.6 L1433.5,2656.8 L1437.5,2661.0 L1441.5,2665.1 L1445.5,2669.2 L1449.5,2673.3 L1453.5,2677.4 L1457.5,2681.4 L1461.5,2685.4 L1465.5,2689.4 L1469.5,2693.4 L1473.5,2697.3 L1477.5,2701.3 L1481.5,2705.1 L1485.5,2709.0 L1489.5,2712.8 L1493.5,2716.6 L1497.5,2720.4 L1501.5,2724.1 L1505.5,2727.8 L1509.5,2731.4 L1513.5,2735.0 L1517.5,2738.6 L1521.5,2742.1 L1525.5,2745.6 L1529.5,2749.1 L1533.5,2752.5 L1537.5,2755.8 L1541.5,2759.2 L1545.5,2762.5 L1549.5,2765.7 L1553.5,2768.9 L1557.5,2772.0 L1561.5,2775.2 L1565.5,2778.2 L1569.5,2781.3 L1573.5,2784.2 L1577.5,2787.2 L1581.5,2790.1 L1585.5,2793.0 L1589.5,2795.8 L1593.5,2798.6 L1597.5,2801.4 L1601.5,2804.1 L1605.5,2806.8 L1609.5,2809.5 L1613.5,2812.1 L1617.5,2814.7 L1621.5,2817.3 L1625.5,2819.8 L1629.5,2822.4 L1633.5,2824.9 L1637.5,2827.4 L1641.5,2829.8 L1645.5,2832.2 L1649.5,2834.6 L1653.5,2837.0 L1657.5,2839.4 L1661.5,2841.7 L1665.5,2844.0 L1669.5,2846.2 L1673.5,2848.5 L1677.5,2850.7 L1681.5,2852.9 L1685.5,2855.0 L1689.5,2857.2 L1693.5,2859.3 L1697.5,2861.4 L1701.5,2863.4 L1705.5,2865.5 L1709.5,2867.5 L1713.5,2869.6 L1717.5,2871.6 L1721.5,2873.6 L1725.5,2875.6 L1729.5,2877.5 L1733.5,2879.5 L1737.5,2881.5 L1741.5,2883.4 L1745.5,2885.4 L1749.5,2887.3 L1753.5,2889.2 L1757.5,2891.1 L1761.5,2893.0 L1765.5,2894.9 L1769.5,2896.7 L1773.5,2898.5 L1777.5,2900.3 L1781.5,2902.0 L1785.5,2903.8 L1789.5,2905.5 L1793.5,2907.2 L1797.5,2908.8 L1801.5,2910.4 L1805.5,2912.0 L1809.5,2913.6 L1813.5,2915.2 L1817.5,2916.7 L1821.5,2918.3 L1825.5,2919.8 L1829.5,2921.3 L1833.5,2922.8 L1837.5,2924.3 L1841.5,2925.8 L1845.5,2927.3 L1849.5,2928.8 L1853.5,2930.2 L1857.5,2931.7 L1861.5,2933.2 L1865.5,2934.6 L1869.5,2936.0 L1873.5,2937.5 L1877.5,2938.9 L1881.5,2940.3 L1885.5,2941.7 L1889.5,2943.1 L1893.5,2944.4 L1897.5,2945.8 L1901.5,2947.1 L1905.5,2948.4 L1909.5,2949.8 L1913.5,2951.1 L1917.5,2952.4 L1921.5,2953.6 L1925.5,2954.9 L1929.5,2956.2 L1933.5,2957.4 L1937.5,2958.6 L1941.5,2959.9 L1945.5,2961.1 L1949.5,2962.3 L1953.5,2963.5 L1957.5,2964.7 L1961.5,2965.8 L1965.5,2967.0 L1969.5,2968.2 L1973.5,2969.3 L1977.5,2970.5 L1981.5,2971.6 L1985.5,2972.8 L1989.5,2973.9 L1993.5,2975.0 L1997.5,2976.1 L2001.5,2977.2 L2005.5,2978.4 L2009.5,2979.5 L2013.5,2980.6 L2017.5,2981.7 L2021.5,2982.8 L2025.5,2983.9 L2029.5,2984.9 L2033.5,2986.0 L2037.5,2987.1 L2041.5,2988.2 L2045.5,2989.3 L2049.5,2990.4 L2053.5,2991.5 L2057.5,2992.5 L2061.5,2993.6 L2065.5,2994.7 L2069.5,2995.8 L2073.5,2996.9 L2077.5,2998.0 L2081.5,2999.0 L2085.5,3000.1 L2089.5,3001.1 L2093.5,3002.2 L2097.5,3003.2 L2101.5,3004.2 L2105.5,3005.2 L2109.5,3006.2 L2113.5,3007.1 L2117.5,3008.1 L2121.5,3009.0 L2125.5,3009.9 L2129.5,3010.8 L2133.5,3011.7 L2137.5,3012.5 L2141.5,3013.3 L2145.5,3014.2 L2149.5,3015.0 L2153.5,3015.7 L2157.5,3016.5 L2161.5,3017.3 L2165.5,3018.0 L2169.5,3018.8 L2173.5,3019.5 L2177.5,3020.2 L2181.5,3020.9 L2185.5,3021.7 L2189.5,3022.4 L2193.5,3023.1 L2197.5,3023.8 L2201.5,3024.5 L2205.5,3025.2 L2209.5,3025.8 L2213.5,3026.5 L2217.5,3027.2 L2221.5,3027.9 L2225.5,3028.7 L2229.5,3029.4 L2233.5,3030.1 L2237.5,3030.8 L2241.5,3031.6 L2245.5,3032.3 L2249.5,3033.1 L2253.5,3033.9 L2257.5,3034.7 L2261.5,3035.5 L2265.5,3036.4 L2269.5,3037.2 L2273.5,3038.1 L2277.5,3039.0 L2281.5,3040.0 L2285.5,3041.0 L2289.5,3042.0 L2293.5,3043.0 L2297.5,3044.1 L2301.5,3045.2 L2305.5,3046.4 L2306.5,3046.7" fill="none" stroke="#000" stroke-width="5.8" stroke-dasharray="26 8 7 9.03" stroke-linejoin="round"/>
<path d="M230.5,2837.9H260.5M245.5,2823.5V2852.3M234.0,2826.4L257.0,2849.4M234.0,2849.4L257.0,2826.4M285.5,2828.6H315.5M300.5,2814.2V2843.0M289.0,2817.1L312.0,2840.1M289.0,2840.1L312.0,2817.1M340.4,2815.5H370.4M355.4,2801.1V2829.9M343.9,2804.0L366.9,2827.0M343.9,2827.0L366.9,2804.0M395.4,2803.5H425.4M410.4,2789.1V2817.9M398.9,2792.0L421.9,2815.0M398.9,2815.0L421.9,2792.0M450.3,2787.4H480.3M465.3,2773.0V2801.8M453.8,2775.9L476.8,2798.9M453.8,2798.9L476.8,2775.9M505.3,2767.7H535.3M520.3,2753.3V2782.1M508.8,2756.2L531.8,2779.2M508.8,2779.2L531.8,2756.2M560.3,2745.6H590.3M575.3,2731.2V2760.0M563.8,2734.1L586.8,2757.1M563.8,2757.1L586.8,2734.1M615.2,2718.3H645.2M630.2,2703.9V2732.7M618.7,2706.8L641.7,2729.8M618.7,2729.8L641.7,2706.8M670.2,2687.3H700.2M685.2,2672.9V2701.7M673.7,2675.8L696.7,2698.8M673.7,2698.8L696.7,2675.8M725.1,2650.4H755.1M740.1,2636.0V2664.8M728.6,2638.9L751.6,2661.9M728.6,2661.9L751.6,2638.9M780.1,2603.5H810.1M795.1,2589.1V2617.9M783.6,2592.0L806.6,2615.0M783.6,2615.0L806.6,2592.0M835.1,2553.6H865.1M850.1,2539.2V2568.0M838.6,2542.1L861.6,2565.1M838.6,2565.1L861.6,2542.1M890.0,2494.6H920.0M905.0,2480.2V2509.0M893.5,2483.1L916.5,2506.1M893.5,2506.1L916.5,2483.1M945.0,2432.6H975.0M960.0,2418.2V2447.0M948.5,2421.1L971.5,2444.1M948.5,2444.1L971.5,2421.1M999.9,2369.4H1029.9M1014.9,2355.0V2383.8M1003.4,2357.9L1026.4,2380.9M1003.4,2380.9L1026.4,2357.9M1054.9,2306.1H1084.9M1069.9,2291.7V2320.5M1058.4,2294.6L1081.4,2317.6M1058.4,2317.6L1081.4,2294.6M1109.9,2260.5H1139.9M1124.9,2246.1V2274.9M1113.4,2249.0L1136.4,2272.0M1113.4,2272.0L1136.4,2249.0M1164.8,2231.8H1194.8M1179.8,2217.4V2246.2M1168.3,2220.3L1191.3,2243.3M1168.3,2243.3L1191.3,2220.3M1219.8,2229.2H1249.8M1234.8,2214.8V2243.6M1223.3,2217.7L1246.3,2240.7M1223.3,2240.7L1246.3,2217.7M1274.7,2250.2H1304.7M1289.7,2235.8V2264.6M1278.2,2238.7L1301.2,2261.7M1278.2,2261.7L1301.2,2238.7M1329.7,2297.4H1359.7M1344.7,2283.0V2311.8M1333.2,2285.9L1356.2,2308.9M1333.2,2308.9L1356.2,2285.9M1384.7,2356.1H1414.7M1399.7,2341.7V2370.5M1388.2,2344.6L1411.2,2367.6M1388.2,2367.6L1411.2,2344.6M1439.6,2422.0H1469.6M1454.6,2407.6V2436.4M1443.1,2410.5L1466.1,2433.5M1443.1,2433.5L1466.1,2410.5M1494.6,2484.2H1524.6M1509.6,2469.8V2498.6M1498.1,2472.7L1521.1,2495.7M1498.1,2495.7L1521.1,2472.7M1549.5,2543.7H1579.5M1564.5,2529.3V2558.1M1553.0,2532.2L1576.0,2555.2M1553.0,2555.2L1576.0,2532.2M1604.5,2600.1H1634.5M1619.5,2585.7V2614.5M1608.0,2588.6L1631.0,2611.6M1608.0,2611.6L1631.0,2588.6M1659.5,2647.6H1689.5M1674.5,2633.2V2662.0M1663.0,2636.1L1686.0,2659.1M1663.0,2659.1L1686.0,2636.1M1714.4,2690.5H1744.4M1729.4,2676.1V2704.9M1717.9,2679.0L1740.9,2702.0M1717.9,2702.0L1740.9,2679.0M1769.4,2731.5H1799.4M1784.4,2717.1V2745.9M1772.9,2720.0L1795.9,2743.0M1772.9,2743.0L1795.9,2720.0M1824.3,2764.8H1854.3M1839.3,2750.4V2779.2M1827.8,2753.3L1850.8,2776.3M1827.8,2776.3L1850.8,2753.3M1879.3,2800.2H1909.3M1894.3,2785.8V2814.6M1882.8,2788.7L1905.8,2811.7M1882.8,2811.7L1905.8,2788.7M1934.3,2827.9H1964.3M1949.3,2813.5V2842.3M1937.8,2816.4L1960.8,2839.4M1937.8,2839.4L1960.8,2816.4M1989.2,2859.1H2019.2M2004.2,2844.7V2873.5M1992.7,2847.6L2015.7,2870.6M1992.7,2870.6L2015.7,2847.6M2044.2,2884.3H2074.2M2059.2,2869.9V2898.7M2047.7,2872.8L2070.7,2895.8M2047.7,2895.8L2070.7,2872.8M2099.1,2909.3H2129.1M2114.1,2894.9V2923.7M2102.6,2897.8L2125.6,2920.8M2102.6,2920.8L2125.6,2897.8M2154.1,2931.5H2184.1M2169.1,2917.1V2945.9M2157.6,2920.0L2180.6,2943.0M2157.6,2943.0L2180.6,2920.0M2209.1,2953.3H2239.1M2224.1,2938.9V2967.7M2212.6,2941.8L2235.6,2964.8M2212.6,2964.8L2235.6,2941.8M2264.0,2971.3H2294.0M2279.0,2956.9V2985.7M2267.5,2959.8L2290.5,2982.8M2267.5,2982.8L2290.5,2959.8" fill="none" stroke="#000" stroke-width="5"/>
<g fill="none" stroke="#000" stroke-width="5"><circle cx="245.5" cy="2840.5" r="12.5"/><circle cx="300.5" cy="2832.0" r="12.5"/><circle cx="355.4" cy="2821.5" r="12.5"/><circle cx="410.4" cy="2808.5" r="12.5"/><circle cx="465.3" cy="2795.0" r="12.5"/><circle cx="520.3" cy="2778.0" r="12.5"/><circle cx="575.3" cy="2756.0" r="12.5"/><circle cx="630.2" cy="2733.0" r="12.5"/><circle cx="685.2" cy="2703.5" r="12.5"/><circle cx="740.1" cy="2668.9" r="12.5"/><circle cx="795.1" cy="2628.4" r="12.5"/><circle cx="850.1" cy="2578.4" r="12.5"/><circle cx="905.0" cy="2524.9" r="12.5"/><circle cx="960.0" cy="2465.7" r="12.5"/><circle cx="1014.9" cy="2406.6" r="12.5"/><circle cx="1069.9" cy="2353.5" r="12.5"/><circle cx="1124.9" cy="2319.4" r="12.5"/><circle cx="1179.8" cy="2306.1" r="12.5"/><circle cx="1234.8" cy="2319.4" r="12.5"/><circle cx="1289.7" cy="2353.3" r="12.5"/><circle cx="1344.7" cy="2400.2" r="12.5"/><circle cx="1399.7" cy="2456.6" r="12.5"/><circle cx="1454.6" cy="2509.1" r="12.5"/><circle cx="1509.6" cy="2559.3" r="12.5"/><circle cx="1564.5" cy="2603.4" r="12.5"/><circle cx="1619.5" cy="2647.7" r="12.5"/><circle cx="1674.5" cy="2684.1" r="12.5"/><circle cx="1729.4" cy="2719.0" r="12.5"/><circle cx="1784.4" cy="2750.2" r="12.5"/><circle cx="1839.3" cy="2781.5" r="12.5"/><circle cx="1894.3" cy="2812.2" r="12.5"/><circle cx="1949.3" cy="2839.9" r="12.5"/><circle cx="2004.2" cy="2868.1" r="12.5"/><circle cx="2059.2" cy="2897.4" r="12.5"/><circle cx="2114.1" cy="2921.7" r="12.5"/><circle cx="2169.1" cy="2943.9" r="12.5"/><circle cx="2224.1" cy="2965.7" r="12.5"/><circle cx="2279.0" cy="2984.4" r="12.5"/></g>
<g fill="none" stroke="#000" stroke-width="5"><rect x="235.5" y="2833.6" width="20" height="20"/><rect x="290.5" y="2824.3" width="20" height="20"/><rect x="345.4" y="2814.4" width="20" height="20"/><rect x="400.4" y="2805.3" width="20" height="20"/><rect x="455.3" y="2793.3" width="20" height="20"/><rect x="510.3" y="2780.0" width="20" height="20"/><rect x="565.3" y="2761.2" width="20" height="20"/><rect x="620.2" y="2743.4" width="20" height="20"/><rect x="675.2" y="2721.7" width="20" height="20"/><rect x="730.1" y="2693.5" width="20" height="20"/><rect x="785.1" y="2662.0" width="20" height="20"/><rect x="840.1" y="2627.6" width="20" height="20"/><rect x="895.0" y="2587.1" width="20" height="20"/><rect x="950.0" y="2542.5" width="20" height="20"/><rect x="1004.9" y="2502.9" width="20" height="20"/><rect x="1059.9" y="2471.4" width="20" height="20"/><rect x="1114.9" y="2456.0" width="20" height="20"/><rect x="1169.8" y="2465.2" width="20" height="20"/><rect x="1224.8" y="2499.6" width="20" height="20"/><rect x="1279.7" y="2553.0" width="20" height="20"/><rect x="1334.7" y="2612.1" width="20" height="20"/><rect x="1389.7" y="2668.5" width="20" height="20"/><rect x="1444.6" y="2721.5" width="20" height="20"/><rect x="1499.6" y="2764.6" width="20" height="20"/><rect x="1554.5" y="2802.8" width="20" height="20"/><rect x="1609.5" y="2834.0" width="20" height="20"/><rect x="1664.5" y="2861.9" width="20" height="20"/><rect x="1719.4" y="2883.2" width="20" height="20"/><rect x="1774.4" y="2905.0" width="20" height="20"/><rect x="1829.3" y="2924.2" width="20" height="20"/><rect x="1884.3" y="2939.6" width="20" height="20"/><rect x="1939.3" y="2958.8" width="20" height="20"/><rect x="1994.2" y="2974.2" width="20" height="20"/><rect x="2049.2" y="2989.7" width="20" height="20"/><rect x="2104.1" y="3002.4" width="20" height="20"/><rect x="2159.1" y="3017.0" width="20" height="20"/><rect x="2214.1" y="3027.3" width="20" height="20"/><rect x="2269.0" y="3039.8" width="20" height="20"/></g>
<path d="M1376.5,1953.5H1406.5M1391.5,1939.1V1967.9M1380.0,1942.0L1403.0,1965.0M1380.0,1965.0L1403.0,1942.0" fill="none" stroke="#000" stroke-width="5"/>
<circle cx="1392" cy="2022.5" r="12.5" fill="none" stroke="#000" stroke-width="5"/>
<rect x="1381.5" y="2084.5" width="20" height="20" fill="none" stroke="#000" stroke-width="5"/>
<path d="M1343,2164.5H1437" stroke="#000" stroke-width="5" fill="none"/>
<path d="M1343,2235H1437" stroke="#000" stroke-width="6" stroke-dasharray="32 18" fill="none"/>
<path d="M1343,2305.5H1437" stroke="#000" stroke-width="5" stroke-dasharray="26 8 7 9" fill="none"/>
</g>
<text transform="translate(112.16,1903.55) scale(0.9876,1)" font-family="'Liberation Serif', serif" font-size="86.11" fill="#222222">1.5</text>
<text transform="translate(175.75,2362.00) scale(0.9267,1)" font-family="'Liberation Serif', serif" font-size="86.33" fill="#222222">1</text>
<text transform="translate(111.74,2820.65) scale(0.9834,1)" font-family="'Liberation Serif', serif" font-size="86.40" fill="#222222">0.5</text>
<text transform="translate(176.14,3278.05) scale(0.9808,1)" font-family="'Liberation Serif', serif" font-size="86.69" fill="#222222">0</text>
<text transform="translate(190.96,3349.14) scale(0.9697,1)" font-family="'Liberation Serif', serif" font-size="87.27" fill="#222222">0.5</text>
<text transform="translate(909.63,3349.00) scale(0.9298,1)" font-family="'Liberation Serif', serif" font-size="86.33" fill="#222222">1</text>
<text transform="translate(1563.90,3348.46) scale(1.0025,1)" font-family="'Liberation Serif', serif" font-size="85.53" fill="#222222">1.5</text>
<text transform="translate(2283.19,3349.00) scale(1.0363,1)" font-family="'Liberation Serif', serif" font-size="86.92" fill="#222222">2</text>
<text transform="translate(91.90,2910.32) rotate(-90) scale(1.0504,1)" font-family="'Liberation Serif', serif" font-size="86.76" fill="#222222">Pitch</text>
<text transform="translate(91.52,2700.29) rotate(-90) scale(1.0078,1)" font-family="'Liberation Serif', serif" font-size="88.58" fill="#222222">RAO</text>
<text transform="translate(92.44,2489.22) rotate(-90) scale(0.8617,1)" font-family="'Liberation Serif', serif" font-size="86.24" fill="#222222">(</text>
<text transform="translate(91.90,2462.22) rotate(-90) scale(1.1238,1)" font-family="'Liberation Serif', serif" font-size="86.76" fill="#222222">rad/m</text>
<text transform="translate(92.44,2234.28) rotate(-90) scale(0.8818,1)" font-family="'Liberation Serif', serif" font-size="86.24" fill="#222222">)</text>
<text transform="translate(1113.21,3442.55) scale(0.9958,1)" font-family="'Liberation Serif', serif" font-size="80.10" fill="#222222" font-style="italic">ω</text>
<text transform="translate(1192.09,3440.02) scale(0.8359,1)" font-family="'Liberation Serif', serif" font-size="80.81" fill="#222222">(</text>
<text transform="translate(1217.77,3442.30) scale(1.1406,1)" font-family="'Liberation Serif', serif" font-size="85.76" fill="#222222">rad/s</text>
<text transform="translate(1408.12,3440.02) scale(0.9410,1)" font-family="'Liberation Serif', serif" font-size="80.81" fill="#222222">)</text>
<text transform="translate(1185.56,3545.49) scale(0.8489,1)" font-family="'Liberation Serif', serif" font-size="84.61" fill="#000">(</text>
<text transform="translate(1212.40,3545.68) scale(0.9464,1)" font-family="'Liberation Serif', serif" font-size="84.40" fill="#000" font-weight="bold">c</text>
<text transform="translate(1248.40,3545.49) scale(0.9077,1)" font-family="'Liberation Serif', serif" font-size="84.61" fill="#000">)</text>
<text transform="translate(1445.76,1974.00) scale(1.0862,1)" font-family="'Liberation Serif', serif" font-size="61.16" fill="#000">Multiple</text>
<text transform="translate(1689.80,1974.02) scale(0.9990,1)" font-family="'Liberation Serif', serif" font-size="62.55" fill="#000">WEC</text>
<text transform="translate(1841.83,1974.00) scale(1.0923,1)" font-family="'Liberation Serif', serif" font-size="62.50" fill="#000">rotor</text>
<text transform="translate(1987.10,1974.14) scale(1.0055,1)" font-family="'Liberation Serif', serif" font-size="61.53" fill="#000">3</text>
<text transform="translate(2034.10,1974.41) scale(0.8489,1)" font-family="'Liberation Serif', serif" font-size="60.31" fill="#000">(</text>
<text transform="translate(2055.34,1973.45) scale(1.1349,1)" font-family="'Liberation Serif', serif" font-size="57.39" fill="#000" font-style="italic">β</text>
<text transform="translate(2101.58,1966.68) scale(1.6492,1)" font-family="'Liberation Sans', serif" font-size="33.28" fill="#000" font-weight="bold">=</text>
<text transform="translate(2146.80,1974.14) scale(0.9895,1)" font-family="'Liberation Serif', serif" font-size="61.38" fill="#000">0°</text>
<text transform="translate(2204.11,1974.41) scale(0.8989,1)" font-family="'Liberation Serif', serif" font-size="60.31" fill="#000">)</text>
<text transform="translate(1445.76,2046.00) scale(1.0862,1)" font-family="'Liberation Serif', serif" font-size="61.16" fill="#000">Multiple</text>
<text transform="translate(1689.80,2046.02) scale(0.9990,1)" font-family="'Liberation Serif', serif" font-size="62.55" fill="#000">WEC</text>
<text transform="translate(1841.83,2046.00) scale(1.0923,1)" font-family="'Liberation Serif', serif" font-size="62.50" fill="#000">rotor</text>
<text transform="translate(1987.10,2046.14) scale(1.0055,1)" font-family="'Liberation Serif', serif" font-size="61.53" fill="#000">3</text>
<text transform="translate(2034.10,2046.41) scale(0.8489,1)" font-family="'Liberation Serif', serif" font-size="60.31" fill="#000">(</text>
<text transform="translate(2055.34,2045.45) scale(1.1349,1)" font-family="'Liberation Serif', serif" font-size="57.39" fill="#000" font-style="italic">β</text>
<text transform="translate(2101.58,2038.68) scale(1.6492,1)" font-family="'Liberation Sans', serif" font-size="33.28" fill="#000" font-weight="bold">=</text>
<text transform="translate(2145.90,2046.14) scale(0.9731,1)" font-family="'Liberation Serif', serif" font-size="61.38" fill="#000">30°</text>
<text transform="translate(2232.01,2046.41) scale(0.8989,1)" font-family="'Liberation Serif', serif" font-size="60.31" fill="#000">)</text>
<text transform="translate(1445.76,2115.00) scale(1.0862,1)" font-family="'Liberation Serif', serif" font-size="61.16" fill="#000">Multiple</text>
<text transform="translate(1689.80,2115.02) scale(0.9990,1)" font-family="'Liberation Serif', serif" font-size="62.55" fill="#000">WEC</text>
<text transform="translate(1841.83,2115.00) scale(1.0923,1)" font-family="'Liberation Serif', serif" font-size="62.50" fill="#000">rotor</text>
<text transform="translate(1987.10,2115.14) scale(1.0055,1)" font-family="'Liberation Serif', serif" font-size="61.53" fill="#000">3</text>
<text transform="translate(2034.10,2115.41) scale(0.8489,1)" font-family="'Liberation Serif', serif" font-size="60.31" fill="#000">(</text>
<text transform="translate(2055.34,2114.45) scale(1.1349,1)" font-family="'Liberation Serif', serif" font-size="57.39" fill="#000" font-style="italic">β</text>
<text transform="translate(2101.58,2107.68) scale(1.6492,1)" font-family="'Liberation Sans', serif" font-size="33.28" fill="#000" font-weight="bold">=</text>
<text transform="translate(2146.86,2115.14) scale(0.9617,1)" font-family="'Liberation Serif', serif" font-size="61.38" fill="#000">60°</text>
<text transform="translate(2232.01,2115.41) scale(0.8989,1)" font-family="'Liberation Serif', serif" font-size="60.31" fill="#000">)</text>
<text transform="translate(1443.78,2186.60) scale(1.0577,1)" font-family="'Liberation Serif', serif" font-size="60.87" fill="#000">Single</text>
<text transform="translate(1625.20,2187.01) scale(0.8489,1)" font-family="'Liberation Serif', serif" font-size="60.31" fill="#000">(</text>
<text transform="translate(1646.44,2186.05) scale(1.1349,1)" font-family="'Liberation Serif', serif" font-size="57.39" fill="#000" font-style="italic">β</text>
<text transform="translate(1692.68,2179.28) scale(1.6492,1)" font-family="'Liberation Sans', serif" font-size="33.28" fill="#000" font-weight="bold">=</text>
<text transform="translate(1736.66,2186.74) scale(1.0112,1)" font-family="'Liberation Serif', serif" font-size="61.38" fill="#000">0°</text>
<text transform="translate(1794.21,2187.01) scale(0.8989,1)" font-family="'Liberation Serif', serif" font-size="60.31" fill="#000">)</text>
<text transform="translate(1443.78,2256.00) scale(1.0577,1)" font-family="'Liberation Serif', serif" font-size="60.87" fill="#000">Single</text>
<text transform="translate(1625.20,2256.41) scale(0.8489,1)" font-family="'Liberation Serif', serif" font-size="60.31" fill="#000">(</text>
<text transform="translate(1646.44,2255.45) scale(1.1349,1)" font-family="'Liberation Serif', serif" font-size="57.39" fill="#000" font-style="italic">β</text>
<text transform="translate(1692.68,2248.68) scale(1.6492,1)" font-family="'Liberation Sans', serif" font-size="33.28" fill="#000" font-weight="bold">=</text>
<text transform="translate(1735.77,2256.14) scale(0.9831,1)" font-family="'Liberation Serif', serif" font-size="61.38" fill="#000">30°</text>
<text transform="translate(1822.01,2256.41) scale(0.8989,1)" font-family="'Liberation Serif', serif" font-size="60.31" fill="#000">)</text>
<text transform="translate(1443.78,2327.80) scale(1.0577,1)" font-family="'Liberation Serif', serif" font-size="60.87" fill="#000">Single</text>
<text transform="translate(1610.20,2328.21) scale(0.8489,1)" font-family="'Liberation Serif', serif" font-size="60.31" fill="#000">(</text>
<text transform="translate(1631.44,2327.25) scale(1.1349,1)" font-family="'Liberation Serif', serif" font-size="57.39" fill="#000" font-style="italic">β</text>
<text transform="translate(1677.68,2320.48) scale(1.6492,1)" font-family="'Liberation Sans', serif" font-size="33.28" fill="#000" font-weight="bold">=</text>
<text transform="translate(1724.14,2327.94) scale(0.9691,1)" font-family="'Liberation Serif', serif" font-size="61.38" fill="#000">60°</text>
<text transform="translate(1809.91,2328.21) scale(0.8989,1)" font-family="'Liberation Serif', serif" font-size="60.31" fill="#000">)</text>
</g>
</svg>
</body></html>
